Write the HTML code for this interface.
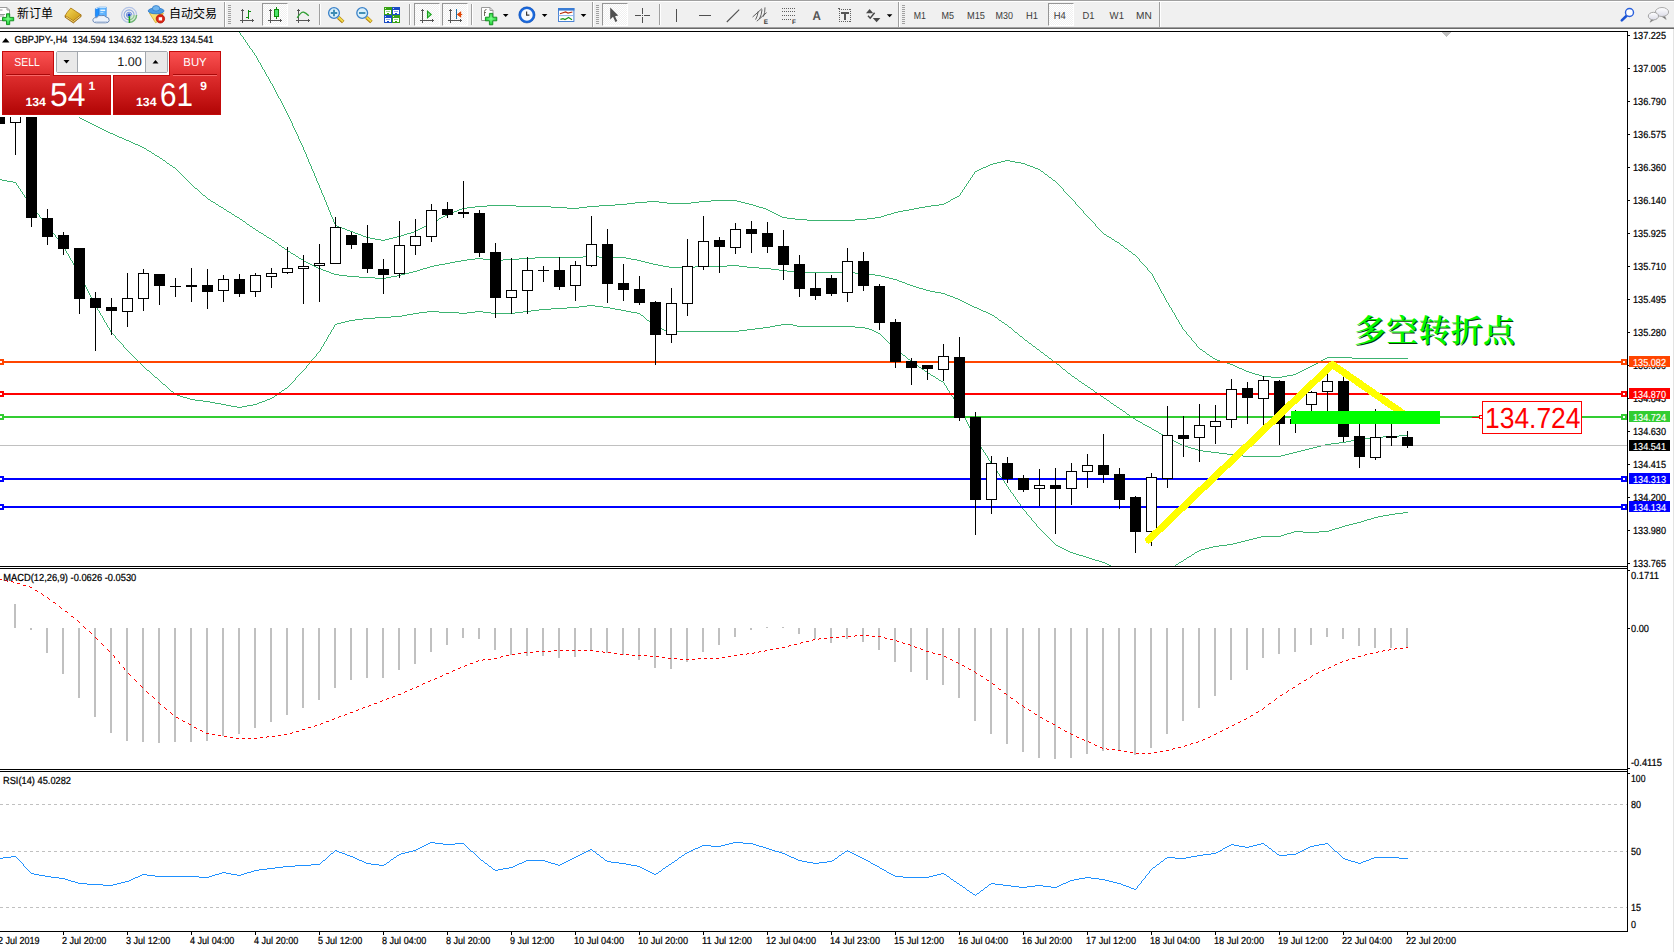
<!DOCTYPE html>
<html><head><meta charset="utf-8"><title>GBPJPY-,H4</title>
<style>
html,body{margin:0;padding:0;background:#fff;}
body{width:1674px;height:952px;position:relative;overflow:hidden;font-family:"Liberation Sans","Noto Sans CJK SC",sans-serif;}
#tb{position:absolute;left:0;top:0;width:1674px;height:29px;background:#f0f0f0;}
#tb .l0{position:absolute;left:0;top:0;width:100%;height:1px;background:#a0a0a0}
#tb .l1{position:absolute;left:0;top:1px;width:100%;height:1px;background:#fff}
#tb .l2{position:absolute;left:0;top:27px;width:100%;height:1px;background:#a0a0a0}
#tb .l3{position:absolute;left:0;top:28px;width:100%;height:1px;background:#696969}
.sep{position:absolute;top:4px;width:1px;height:21px;background:#a0a0a0;box-shadow:1px 0 0 #fff}
.sep.tall{top:2px;height:25px}
.grip{position:absolute;top:5px;width:3px;height:19px;background:repeating-linear-gradient(#a0a0a0 0 1px,transparent 1px 2px)}
.pressed{position:absolute;top:3px;width:26px;height:23px;box-sizing:border-box;border:1px solid;border-color:#969696 #fff #fff #969696;
 background:conic-gradient(#fff 25%,#f0f0f0 0 50%,#fff 0 75%,#f0f0f0 0) 0 0/2px 2px}
.cn{position:absolute;top:5px;font-size:12px;line-height:16px;color:#000;font-family:"Liberation Sans","Noto Sans CJK SC",sans-serif}
#redge{position:absolute;left:1673px;top:29px;width:1px;height:923px;background:#e3e3e3}
</style></head><body>
<svg width="1674" height="952" viewBox="0 0 1674 952" style="position:absolute;left:0;top:0" shape-rendering="crispEdges" text-rendering="geometricPrecision" font-family="'Liberation Sans',sans-serif"><rect x="0" y="31" width="1628" height="1" fill="#000"/>
<rect x="1627" y="31" width="1" height="901" fill="#000"/>
<rect x="0" y="566" width="1628" height="1" fill="#000"/>
<rect x="0" y="568" width="1628" height="1" fill="#000"/>
<rect x="0" y="769" width="1628" height="1" fill="#000"/>
<rect x="0" y="771" width="1628" height="1" fill="#000"/>
<rect x="0" y="931" width="1628" height="1" fill="#000"/>
<clipPath id="cm"><rect x="0" y="32" width="1627" height="534"/></clipPath>
<g clip-path="url(#cm)">
<rect x="1442" y="32" width="9" height="1" fill="#c0c0c0"/>
<rect x="1443" y="33" width="7" height="1" fill="#c0c0c0"/>
<rect x="1444" y="34" width="5" height="1" fill="#c0c0c0"/>
<rect x="1445" y="35" width="3" height="1" fill="#c0c0c0"/>
<rect x="1446" y="36" width="1" height="1" fill="#c0c0c0"/>
<path d="M239 32h1M240 33h1M240 34h1M241 35h1M242 36h1M243 37h1M243 38h1M244 39h1M245 40h1M245 41h1M246 42h1M247 43h1M247 44h1M248 45h1M249 46h1M249 47h1M250 48h1M251 49h1M252 50h1M252 51h1M253 52h1M254 53h1M254 54h1M255 55h1M256 56h1M256 57h1M257 58h1M257 59h1M258 60h1M258 61h1M259 62h1M260 63h1M260 64h1M261 65h1M261 66h1M262 67h1M262 68h1M263 69h1M264 70h1M264 71h1M265 72h1M265 73h1M266 74h1M266 75h1M267 76h1M268 77h1M268 78h1M269 79h1M269 80h1M270 81h1M270 82h1M271 83h1M272 84h1M272 85h1M273 86h1M273 87h1M274 88h1M274 89h1M275 90h1M275 91h1M276 92h1M276 93h1M277 94h1M277 95h1M278 96h1M278 97h1M279 98h1M280 99h1M280 100h1M281 101h1M281 102h1M282 103h1M282 104h1M283 105h1M283 106h1M284 107h1M284 108h1M285 109h1M285 110h1M286 111h1M286 112h1M287 113h1M287 114h1M288 115h1M288 116h1M289 117h1M289 118h1M290 119h1M290 120h1M291 121h1M291 122h1M292 123h1M292 124h1M292 125h1M293 126h1M293 127h1M294 128h1M294 129h1M295 130h1M295 131h1M296 132h1M296 133h1M297 134h1M297 135h1M298 136h1M298 137h1M298 138h1M299 139h1M299 140h1M300 141h1M300 142h1M301 143h1M301 144h1M302 145h1M302 146h1M303 147h1M303 148h1M303 149h1M304 150h1M304 151h1M305 152h1M305 153h1M306 154h1M306 155h1M306 156h1M307 157h1M307 158h1M308 159h1M308 160h1M1005 160h5M308 161h1M1001 161h4M1010 161h5M309 162h1M997 162h4M1015 162h6M309 163h1M993 163h4M1021 163h4M310 164h1M990 164h3M1025 164h2M310 165h1M988 165h2M1027 165h3M311 166h1M986 166h2M1030 166h3M311 167h1M983 167h3M1033 167h2M311 168h1M981 168h2M1035 168h3M312 169h1M979 169h2M1038 169h2M312 170h1M977 170h2M1040 170h1M313 171h1M975 171h2M1041 171h2M313 172h1M974 172h1M1043 172h1M314 173h1M974 173h1M1044 173h1M314 174h1M973 174h1M1045 174h2M314 175h1M972 175h1M1047 175h1M315 176h1M972 176h1M1048 176h1M315 177h1M971 177h1M1049 177h2M316 178h1M970 178h1M1051 178h1M316 179h1M970 179h1M1052 179h1M316 180h1M969 180h1M1053 180h2M317 181h1M968 181h1M1055 181h1M317 182h1M968 182h1M1056 182h1M318 183h1M967 183h1M1057 183h1M318 184h1M966 184h1M1058 184h1M319 185h1M966 185h1M1059 185h1M319 186h1M965 186h1M1060 186h1M319 187h1M964 187h1M1061 187h1M320 188h1M964 188h1M1062 188h1M320 189h1M963 189h1M1063 189h1M321 190h1M962 190h1M1063 190h1M321 191h1M962 191h1M1064 191h1M321 192h1M961 192h1M1065 192h1M322 193h1M960 193h1M1066 193h1M322 194h1M960 194h1M1067 194h1M323 195h1M959 195h1M1068 195h1M323 196h1M957 196h2M1069 196h1M324 197h1M955 197h2M1070 197h1M324 198h1M953 198h2M1071 198h1M324 199h1M951 199h2M1072 199h1M325 200h1M711 200h26M950 200h1M1073 200h1M325 201h1M647 201h12M699 201h12M737 201h4M948 201h2M1074 201h1M326 202h1M635 202h12M659 202h8M691 202h8M741 202h4M946 202h2M1075 202h1M326 203h1M627 203h8M667 203h24M745 203h4M944 203h2M1075 203h1M326 204h1M615 204h12M749 204h4M939 204h5M1076 204h1M327 205h1M487 205h29M599 205h16M753 205h3M931 205h8M1077 205h1M327 206h1M475 206h12M516 206h35M587 206h12M756 206h3M925 206h6M1078 206h1M328 207h1M467 207h8M551 207h16M579 207h8M759 207h4M919 207h6M1079 207h1M328 208h1M462 208h5M567 208h12M763 208h3M914 208h5M1080 208h1M328 209h1M459 209h3M766 209h2M909 209h5M1081 209h1M329 210h1M457 210h2M768 210h2M903 210h6M1082 210h1M329 211h1M454 211h3M770 211h2M898 211h5M1083 211h1M330 212h1M451 212h3M772 212h2M894 212h4M1083 212h1M330 213h1M449 213h2M774 213h2M891 213h3M1084 213h1M330 214h1M447 214h2M776 214h2M887 214h4M1085 214h1M331 215h1M445 215h2M778 215h2M884 215h3M1086 215h1M331 216h1M443 216h2M780 216h2M881 216h3M1087 216h1M332 217h1M441 217h2M782 217h5M875 217h6M1088 217h1M332 218h1M439 218h2M787 218h8M867 218h8M1089 218h1M333 219h1M438 219h1M795 219h12M855 219h12M1090 219h1M333 220h1M436 220h2M807 220h48M1091 220h1M333 221h1M434 221h2M1092 221h1M334 222h1M432 222h2M1093 222h1M334 223h1M430 223h2M1094 223h1M335 224h1M428 224h2M1095 224h1M335 225h2M426 225h2M1095 225h1M337 226h2M424 226h2M1096 226h1M339 227h3M422 227h2M1097 227h1M342 228h3M420 228h2M1098 228h1M345 229h2M418 229h2M1099 229h1M347 230h3M416 230h2M1100 230h1M350 231h3M414 231h2M1101 231h1M353 232h2M411 232h3M1102 232h1M355 233h3M407 233h4M1103 233h1M358 234h3M404 234h3M1104 234h2M361 235h2M401 235h3M1106 235h1M363 236h3M397 236h4M1107 236h2M366 237h4M393 237h4M1109 237h2M370 238h5M389 238h4M1111 238h1M375 239h6M385 239h4M1112 239h2M381 240h4M1114 240h1M1115 241h2M1117 242h2M1119 243h1M1120 244h1M1121 245h2M1123 246h1M1124 247h1M1125 248h2M1127 249h1M1128 250h1M1129 251h2M1131 252h1M1132 253h1M1133 254h2M1135 255h1M1136 256h1M1137 257h1M1138 258h1M1139 259h1M1139 260h1M1140 261h1M1141 262h1M1142 263h1M1143 264h1M1144 265h1M1145 266h1M1146 267h1M1147 268h1M1147 269h1M1148 270h1M1149 271h1M1150 272h1M1151 273h1M1152 274h1M1152 275h1M1153 276h1M1153 277h1M1154 278h1M1154 279h1M1155 280h1M1155 281h1M1156 282h1M1157 283h1M1157 284h1M1158 285h1M1158 286h1M1159 287h1M1159 288h1M1160 289h1M1160 290h1M1161 291h1M1161 292h1M1162 293h1M1163 294h1M1163 295h1M1164 296h1M1164 297h1M1165 298h1M1165 299h1M1166 300h1M1166 301h1M1167 302h1M1168 303h1M1168 304h1M1169 305h1M1169 306h1M1170 307h1M1171 308h1M1171 309h1M1172 310h1M1172 311h1M1173 312h1M1174 313h1M1174 314h1M1175 315h1M1175 316h1M1176 317h1M1176 318h1M1177 319h1M1178 320h1M1178 321h1M1179 322h1M1179 323h1M1180 324h1M1181 325h1M1181 326h1M1182 327h1M1182 328h1M1183 329h1M1184 330h1M1185 331h1M1186 332h1M1186 333h1M1187 334h1M1188 335h1M1189 336h1M1190 337h1M1191 338h1M1191 339h1M1192 340h1M1193 341h1M1194 342h1M1195 343h1M1196 344h1M1196 345h1M1197 346h1M1198 347h1M1199 348h1M1200 349h2M1202 350h1M1203 351h2M1205 352h1M1206 353h1M1207 354h2M1209 355h1M1210 356h2M1212 357h1M1327 357h25M1213 358h2M1325 358h2M1352 358h56M1215 359h2M1323 359h2M1217 360h3M1321 360h2M1220 361h3M1319 361h2M1223 362h4M1318 362h1M1227 363h3M1316 363h2M1230 364h3M1314 364h2M1233 365h2M1312 365h2M1235 366h2M1310 366h2M1237 367h2M1308 367h2M1239 368h3M1306 368h2M1242 369h2M1304 369h2M1244 370h2M1302 370h2M1246 371h3M1300 371h2M1249 372h3M1298 372h2M1252 373h3M1296 373h2M1255 374h4M1293 374h3M1259 375h3M1287 375h6M1262 376h9M1282 376h5M1271 377h11" stroke="#3cb371" stroke-width="1" fill="none" transform="translate(0,0.5)"/>
<path d="M60 107h1M61 108h2M63 109h2M65 110h2M67 111h2M69 112h2M71 113h2M73 114h2M75 115h2M77 116h2M79 117h1M80 118h2M82 119h2M84 120h2M86 121h2M88 122h2M90 123h2M92 124h2M94 125h2M96 126h2M98 127h2M100 128h2M102 129h2M104 130h2M106 131h2M108 132h2M110 133h3M113 134h2M115 135h2M117 136h2M119 137h3M122 138h2M124 139h2M126 140h3M129 141h2M131 142h2M133 143h2M135 144h3M138 145h2M140 146h2M142 147h2M144 148h2M146 149h1M147 150h2M149 151h2M151 152h1M152 153h2M154 154h1M155 155h2M157 156h2M159 157h1M160 158h2M162 159h1M163 160h2M165 161h1M166 162h1M167 163h2M169 164h1M170 165h2M172 166h1M173 167h2M175 168h1M176 169h1M177 170h1M178 171h1M179 172h1M180 173h1M181 174h1M182 175h1M183 176h1M184 177h1M185 178h1M186 179h1M187 180h1M188 181h1M189 182h1M190 183h1M191 184h1M192 185h1M193 186h1M194 187h1M195 188h2M197 189h1M198 190h1M199 191h1M200 192h1M201 193h1M202 194h1M203 195h2M205 196h1M206 197h1M207 198h1M208 199h2M210 200h1M211 201h2M213 202h2M215 203h1M216 204h2M218 205h1M219 206h2M221 207h2M223 208h1M224 209h2M226 210h1M227 211h2M229 212h2M231 213h1M232 214h2M234 215h1M235 216h2M237 217h2M239 218h1M240 219h2M242 220h1M243 221h2M245 222h1M246 223h1M247 224h2M249 225h1M250 226h2M252 227h1M253 228h2M255 229h1M256 230h2M258 231h1M259 232h2M261 233h2M263 234h1M264 235h2M266 236h1M267 237h2M269 238h2M271 239h1M272 240h2M274 241h1M275 242h2M277 243h1M278 244h1M279 245h2M281 246h1M282 247h2M284 248h1M285 249h2M287 250h1M288 251h2M290 252h1M291 253h2M293 254h2M295 255h1M296 256h2M583 256h16M298 257h1M535 257h48M599 257h27M299 258h2M475 258h8M519 258h16M626 258h5M301 259h2M467 259h8M483 259h8M503 259h16M631 259h6M303 260h1M461 260h6M491 260h12M637 260h4M304 261h2M455 261h6M641 261h4M306 262h2M450 262h5M645 262h4M308 263h2M445 263h5M649 263h4M310 264h2M439 264h6M653 264h5M312 265h2M434 265h5M658 265h5M727 265h12M314 266h2M430 266h4M663 266h6M695 266h32M739 266h8M316 267h2M427 267h3M669 267h26M747 267h12M318 268h3M423 268h4M759 268h12M321 269h2M420 269h3M771 269h8M323 270h3M417 270h3M779 270h8M326 271h3M413 271h4M787 271h8M329 272h2M409 272h4M795 272h60M331 273h3M405 273h4M855 273h12M334 274h5M401 274h4M867 274h8M339 275h8M397 275h4M875 275h6M347 276h12M391 276h6M881 276h4M359 277h16M386 277h5M885 277h4M375 278h11M889 278h4M893 279h4M897 280h2M899 281h3M902 282h3M905 283h2M907 284h3M910 285h3M913 286h3M916 287h3M919 288h4M923 289h3M926 290h4M930 291h5M935 292h6M941 293h4M945 294h2M947 295h3M950 296h3M953 297h2M955 298h3M958 299h2M960 300h2M962 301h2M964 302h2M966 303h2M968 304h2M970 305h2M972 306h2M974 307h3M977 308h2M979 309h2M981 310h2M983 311h3M986 312h2M988 313h2M990 314h2M992 315h2M994 316h1M995 317h2M997 318h1M998 319h1M999 320h2M1001 321h1M1002 322h2M1004 323h1M1005 324h2M1007 325h1M1008 326h1M1009 327h2M1011 328h1M1012 329h1M1013 330h1M1014 331h1M1015 332h2M1017 333h1M1018 334h1M1019 335h1M1020 336h2M1022 337h1M1023 338h1M1024 339h1M1025 340h2M1027 341h1M1028 342h1M1029 343h2M1031 344h1M1032 345h1M1033 346h2M1035 347h1M1036 348h1M1037 349h2M1039 350h1M1040 351h1M1041 352h2M1043 353h1M1044 354h1M1045 355h2M1047 356h1M1048 357h1M1049 358h2M1051 359h1M1052 360h1M1053 361h2M1055 362h1M1056 363h1M1057 364h2M1059 365h1M1060 366h1M1061 367h1M1062 368h1M1063 369h2M1065 370h1M1066 371h1M1067 372h1M1068 373h2M1070 374h1M1071 375h1M1072 376h2M1074 377h1M1075 378h2M1077 379h1M1078 380h1M1079 381h2M1081 382h1M1082 383h2M1084 384h1M1085 385h2M1087 386h1M1088 387h2M1090 388h1M1091 389h2M1093 390h1M1094 391h1M1095 392h2M1097 393h1M1098 394h2M1100 395h1M1101 396h2M1103 397h1M1104 398h2M1106 399h1M1107 400h2M1109 401h1M1110 402h1M1111 403h2M1113 404h1M1114 405h2M1116 406h1M1117 407h2M1119 408h1M1120 409h2M1122 410h1M1123 411h2M1125 412h1M1126 413h1M1127 414h2M1129 415h1M1130 416h2M1132 417h1M1133 418h2M1135 419h1M1136 420h2M1138 421h2M1140 422h2M1142 423h1M1143 424h2M1145 425h2M1147 426h2M1149 427h2M1151 428h1M1152 429h2M1154 430h2M1156 431h2M1158 432h1M1159 433h2M1161 434h2M1163 435h2M1399 435h9M1165 436h2M1383 436h16M1167 437h1M1371 437h12M1168 438h2M1363 438h8M1170 439h2M1357 439h6M1172 440h2M1351 440h6M1174 441h2M1346 441h5M1176 442h2M1339 442h7M1178 443h2M1331 443h8M1180 444h2M1325 444h6M1182 445h3M1321 445h4M1185 446h3M1317 446h4M1188 447h3M1313 447h4M1191 448h4M1309 448h4M1195 449h3M1305 449h4M1198 450h5M1301 450h4M1203 451h8M1297 451h4M1211 452h8M1293 452h4M1219 453h8M1289 453h4M1227 454h8M1285 454h4M1235 455h8M1281 455h4M1243 456h38" stroke="#3cb371" stroke-width="1" fill="none" transform="translate(0,0.5)"/>
<path d="M0 179h2M2 180h5M7 181h6M13 182h3M16 183h1M16 184h1M17 185h1M18 186h1M18 187h1M19 188h1M20 189h1M20 190h1M21 191h1M22 192h1M22 193h1M23 194h1M24 195h1M24 196h1M25 197h1M26 198h1M26 199h1M27 200h1M28 201h1M28 202h1M29 203h1M30 204h1M30 205h1M31 206h1M32 207h1M33 208h1M34 209h1M34 210h1M35 211h1M36 212h1M37 213h1M38 214h1M39 215h1M39 216h1M40 217h1M41 218h1M42 219h1M43 220h1M44 221h1M44 222h1M45 223h1M46 224h1M47 225h1M48 226h1M49 227h1M49 228h1M50 229h1M51 230h1M52 231h1M52 232h1M53 233h1M54 234h1M55 235h1M55 236h1M56 237h1M57 238h1M58 239h1M58 240h1M59 241h1M60 242h1M61 243h1M61 244h1M62 245h1M63 246h1M64 247h1M64 248h1M65 249h1M65 250h1M66 251h1M66 252h1M67 253h1M68 254h1M68 255h1M69 256h1M69 257h1M70 258h1M70 259h1M71 260h1M72 261h1M72 262h1M73 263h1M73 264h1M74 265h1M74 266h1M75 267h1M76 268h1M76 269h1M77 270h1M77 271h1M78 272h1M78 273h1M79 274h1M80 275h1M80 276h1M81 277h1M81 278h1M82 279h1M82 280h1M83 281h1M83 282h1M84 283h1M84 284h1M85 285h1M85 286h1M86 287h1M86 288h1M87 289h1M87 290h1M88 291h1M88 292h1M89 293h1M89 294h1M90 295h1M90 296h1M91 297h1M91 298h1M92 299h1M92 300h1M93 301h1M93 302h1M94 303h1M94 304h1M95 305h1M587 305h8M96 306h1M579 306h8M595 306h8M96 307h1M567 307h12M603 307h7M97 308h1M551 308h16M610 308h5M97 309h1M539 309h12M615 309h6M98 310h1M531 310h8M621 310h5M99 311h1M427 311h12M475 311h8M523 311h8M626 311h5M99 312h1M419 312h8M439 312h20M467 312h8M483 312h8M515 312h8M631 312h6M100 313h1M413 313h6M459 313h8M491 313h24M637 313h3M100 314h1M407 314h6M640 314h1M101 315h1M402 315h5M641 315h2M102 316h1M391 316h11M643 316h1M102 317h1M375 317h16M644 317h1M103 318h1M363 318h12M645 318h1M103 319h1M355 319h8M646 319h1M104 320h1M349 320h6M647 320h2M104 321h1M345 321h4M649 321h1M105 322h1M341 322h4M650 322h1M106 323h1M337 323h4M651 323h1M106 324h1M335 324h2M652 324h2M781 324h12M107 325h1M334 325h1M654 325h1M775 325h6M793 325h4M107 326h1M334 326h1M655 326h2M770 326h5M797 326h58M108 327h1M333 327h1M657 327h2M763 327h7M855 327h10M109 328h1M333 328h1M659 328h3M755 328h8M865 328h4M109 329h1M332 329h1M662 329h2M747 329h8M869 329h3M110 330h1M331 330h1M664 330h4M739 330h8M872 330h2M110 331h1M331 331h1M668 331h71M874 331h2M111 332h1M330 332h1M876 332h2M112 333h1M330 333h1M878 333h2M113 334h1M329 334h1M880 334h1M114 335h1M328 335h1M881 335h1M115 336h1M328 336h1M882 336h1M115 337h1M327 337h1M883 337h1M116 338h1M327 338h1M884 338h1M117 339h1M326 339h1M885 339h1M118 340h1M326 340h1M886 340h1M119 341h1M325 341h1M887 341h1M120 342h1M324 342h1M888 342h1M121 343h1M324 343h1M889 343h1M122 344h1M323 344h1M890 344h1M123 345h1M323 345h1M891 345h2M123 346h1M322 346h1M893 346h1M124 347h1M321 347h1M894 347h1M125 348h1M321 348h1M895 348h1M126 349h1M320 349h1M896 349h1M127 350h1M320 350h1M897 350h2M128 351h1M319 351h1M899 351h1M129 352h1M318 352h1M900 352h1M130 353h1M317 353h1M901 353h1M131 354h1M316 354h1M902 354h1M132 355h1M316 355h1M903 355h2M133 356h1M315 356h1M905 356h1M134 357h1M314 357h1M906 357h1M135 358h1M313 358h1M907 358h1M136 359h1M312 359h1M908 359h2M137 360h1M311 360h1M910 360h1M138 361h1M311 361h1M911 361h1M139 362h1M310 362h1M912 362h2M140 363h1M309 363h1M914 363h1M141 364h1M308 364h1M915 364h2M142 365h1M307 365h1M917 365h1M143 366h1M306 366h1M918 366h1M144 367h1M306 367h1M919 367h2M145 368h1M305 368h1M921 368h1M146 369h1M304 369h1M922 369h2M147 370h2M303 370h1M924 370h1M149 371h1M302 371h1M925 371h2M150 372h1M301 372h1M927 372h1M151 373h1M300 373h1M928 373h2M152 374h1M299 374h1M930 374h1M153 375h1M298 375h1M931 375h2M154 376h1M297 376h1M933 376h2M155 377h2M296 377h1M935 377h1M157 378h1M295 378h1M936 378h2M158 379h1M295 379h1M938 379h1M159 380h1M294 380h1M939 380h2M160 381h1M293 381h1M941 381h2M161 382h1M292 382h1M943 382h1M162 383h1M291 383h1M944 383h1M163 384h2M290 384h1M944 384h1M165 385h1M289 385h1M945 385h1M166 386h1M288 386h1M946 386h1M167 387h1M287 387h1M946 387h1M168 388h1M285 388h2M947 388h1M169 389h1M284 389h1M947 389h1M170 390h1M282 390h2M948 390h1M171 391h2M281 391h1M949 391h1M173 392h1M279 392h2M949 392h1M174 393h1M278 393h1M950 393h1M175 394h2M277 394h1M951 394h1M177 395h3M275 395h2M951 395h1M180 396h3M274 396h1M952 396h1M183 397h4M272 397h2M953 397h1M187 398h3M270 398h2M953 398h1M190 399h5M267 399h3M954 399h1M195 400h8M265 400h2M955 400h1M203 401h7M262 401h3M955 401h1M210 402h5M259 402h3M956 402h1M215 403h6M257 403h2M956 403h1M221 404h5M253 404h4M957 404h1M226 405h5M247 405h6M958 405h1M231 406h6M242 406h5M958 406h1M237 407h5M959 407h1M960 408h1M960 409h1M961 410h1M961 411h1M962 412h1M962 413h1M963 414h1M963 415h1M964 416h1M964 417h1M965 418h1M965 419h1M966 420h1M966 421h1M967 422h1M967 423h1M968 424h1M968 425h1M969 426h1M969 427h1M970 428h1M970 429h1M971 430h1M971 431h1M972 432h1M972 433h1M973 434h1M973 435h1M974 436h1M974 437h1M975 438h1M976 439h1M976 440h1M977 441h1M978 442h1M978 443h1M979 444h1M979 445h1M980 446h1M981 447h1M981 448h1M982 449h1M983 450h1M983 451h1M984 452h1M985 453h1M985 454h1M986 455h1M987 456h1M987 457h1M988 458h1M988 459h1M989 460h1M990 461h1M990 462h1M991 463h1M992 464h1M992 465h1M993 466h1M994 467h1M994 468h1M995 469h1M996 470h1M997 471h1M997 472h1M998 473h1M999 474h1M999 475h1M1000 476h1M1001 477h1M1001 478h1M1002 479h1M1003 480h1M1004 481h1M1004 482h1M1005 483h1M1006 484h1M1006 485h1M1007 486h1M1008 487h1M1008 488h1M1009 489h1M1010 490h1M1010 491h1M1011 492h1M1012 493h1M1013 494h1M1013 495h1M1014 496h1M1015 497h1M1015 498h1M1016 499h1M1017 500h1M1017 501h1M1018 502h1M1019 503h1M1020 504h1M1020 505h1M1021 506h1M1022 507h1M1022 508h1M1023 509h1M1024 510h1M1025 511h1M1026 512h1M1403 512h5M1026 513h1M1395 513h8M1027 514h1M1389 514h6M1028 515h1M1383 515h6M1029 516h1M1378 516h5M1030 517h1M1374 517h4M1031 518h1M1371 518h3M1031 519h1M1367 519h4M1032 520h1M1364 520h3M1033 521h1M1361 521h3M1034 522h1M1357 522h4M1035 523h1M1353 523h4M1036 524h1M1349 524h4M1036 525h1M1345 525h4M1037 526h1M1342 526h3M1038 527h1M1339 527h3M1039 528h1M1335 528h4M1040 529h1M1332 529h3M1041 530h1M1329 530h3M1042 531h1M1294 531h9M1319 531h10M1043 532h1M1291 532h3M1303 532h16M1044 533h1M1287 533h4M1045 534h1M1284 534h3M1046 535h1M1281 535h3M1047 536h1M1261 536h20M1048 537h1M1257 537h4M1049 538h1M1253 538h4M1050 539h1M1249 539h4M1051 540h1M1245 540h4M1052 541h1M1241 541h4M1053 542h1M1237 542h4M1054 543h1M1233 543h4M1055 544h1M1227 544h6M1056 545h2M1219 545h8M1058 546h2M1213 546h6M1060 547h2M1209 547h4M1062 548h2M1205 548h4M1064 549h2M1201 549h4M1066 550h2M1199 550h2M1068 551h2M1197 551h2M1070 552h3M1195 552h2M1073 553h3M1194 553h1M1076 554h3M1192 554h2M1079 555h4M1191 555h1M1083 556h3M1189 556h2M1086 557h3M1187 557h2M1089 558h3M1186 558h1M1092 559h3M1184 559h2M1095 560h4M1183 560h1M1099 561h3M1181 561h2M1102 562h3M1179 562h2M1105 563h2M1178 563h1M1107 564h2M1176 564h2M1109 565h2M1175 565h1" stroke="#3cb371" stroke-width="1" fill="none" transform="translate(0,0.5)"/>
<rect x="0" y="445" width="1627" height="1" fill="#c0c0c0"/>
<rect x="0" y="361" width="1627" height="2" fill="#ff4500"/>
<rect x="-2" y="359" width="6" height="6" fill="#ff4500"/>
<rect x="0" y="361" width="2" height="2" fill="#fff"/>
<rect x="1621" y="359" width="6" height="6" fill="#ff4500"/>
<rect x="1623" y="361" width="2" height="2" fill="#fff"/>
<rect x="0" y="393" width="1627" height="2" fill="#ff0000"/>
<rect x="-2" y="391" width="6" height="6" fill="#ff0000"/>
<rect x="0" y="393" width="2" height="2" fill="#fff"/>
<rect x="1621" y="391" width="6" height="6" fill="#ff0000"/>
<rect x="1623" y="393" width="2" height="2" fill="#fff"/>
<rect x="0" y="416" width="1627" height="2" fill="#32cd32"/>
<rect x="-2" y="414" width="6" height="6" fill="#32cd32"/>
<rect x="0" y="416" width="2" height="2" fill="#fff"/>
<rect x="1621" y="414" width="6" height="6" fill="#32cd32"/>
<rect x="1623" y="416" width="2" height="2" fill="#fff"/>
<rect x="0" y="478" width="1627" height="2" fill="#0000ff"/>
<rect x="-2" y="476" width="6" height="6" fill="#0000ff"/>
<rect x="0" y="478" width="2" height="2" fill="#fff"/>
<rect x="1621" y="476" width="6" height="6" fill="#0000ff"/>
<rect x="1623" y="478" width="2" height="2" fill="#fff"/>
<rect x="0" y="506" width="1627" height="2" fill="#0000ff"/>
<rect x="-2" y="504" width="6" height="6" fill="#0000ff"/>
<rect x="0" y="506" width="2" height="2" fill="#fff"/>
<rect x="1621" y="504" width="6" height="6" fill="#0000ff"/>
<rect x="1623" y="506" width="2" height="2" fill="#fff"/>
<rect x="-1" y="100" width="1" height="24" fill="#000"/>
<rect x="-6" y="100" width="11" height="24" fill="#000"/>
<rect x="15" y="100" width="1" height="55" fill="#000"/>
<rect x="10" y="100" width="11" height="23" fill="#000"/>
<rect x="11" y="101" width="9" height="21" fill="#fff"/>
<rect x="31" y="100" width="1" height="127" fill="#000"/>
<rect x="26" y="100" width="11" height="118" fill="#000"/>
<rect x="47" y="209" width="1" height="36" fill="#000"/>
<rect x="42" y="218" width="11" height="19" fill="#000"/>
<rect x="63" y="232" width="1" height="23" fill="#000"/>
<rect x="58" y="235" width="11" height="14" fill="#000"/>
<rect x="79" y="248" width="1" height="66" fill="#000"/>
<rect x="74" y="248" width="11" height="51" fill="#000"/>
<rect x="95" y="292" width="1" height="59" fill="#000"/>
<rect x="90" y="298" width="11" height="10" fill="#000"/>
<rect x="111" y="298" width="1" height="37" fill="#000"/>
<rect x="106" y="307" width="11" height="4" fill="#000"/>
<rect x="127" y="273" width="1" height="54" fill="#000"/>
<rect x="122" y="298" width="11" height="14" fill="#000"/>
<rect x="123" y="299" width="9" height="12" fill="#fff"/>
<rect x="143" y="269" width="1" height="42" fill="#000"/>
<rect x="138" y="273" width="11" height="26" fill="#000"/>
<rect x="139" y="274" width="9" height="24" fill="#fff"/>
<rect x="159" y="274" width="1" height="31" fill="#000"/>
<rect x="154" y="274" width="11" height="12" fill="#000"/>
<rect x="175" y="278" width="1" height="19" fill="#000"/>
<rect x="170" y="286" width="11" height="1" fill="#000"/>
<rect x="191" y="268" width="1" height="34" fill="#000"/>
<rect x="186" y="285" width="11" height="2" fill="#000"/>
<rect x="207" y="269" width="1" height="40" fill="#000"/>
<rect x="202" y="285" width="11" height="7" fill="#000"/>
<rect x="223" y="275" width="1" height="27" fill="#000"/>
<rect x="218" y="279" width="11" height="12" fill="#000"/>
<rect x="219" y="280" width="9" height="10" fill="#fff"/>
<rect x="239" y="274" width="1" height="23" fill="#000"/>
<rect x="234" y="279" width="11" height="15" fill="#000"/>
<rect x="255" y="273" width="1" height="24" fill="#000"/>
<rect x="250" y="275" width="11" height="17" fill="#000"/>
<rect x="251" y="276" width="9" height="15" fill="#fff"/>
<rect x="271" y="268" width="1" height="20" fill="#000"/>
<rect x="266" y="273" width="11" height="4" fill="#000"/>
<rect x="267" y="274" width="9" height="2" fill="#fff"/>
<rect x="287" y="247" width="1" height="27" fill="#000"/>
<rect x="282" y="268" width="11" height="5" fill="#000"/>
<rect x="283" y="269" width="9" height="3" fill="#fff"/>
<rect x="303" y="255" width="1" height="49" fill="#000"/>
<rect x="298" y="266" width="11" height="3" fill="#000"/>
<rect x="299" y="267" width="9" height="1" fill="#fff"/>
<rect x="319" y="244" width="1" height="58" fill="#000"/>
<rect x="314" y="263" width="11" height="3" fill="#000"/>
<rect x="315" y="264" width="9" height="1" fill="#fff"/>
<rect x="335" y="217" width="1" height="47" fill="#000"/>
<rect x="330" y="227" width="11" height="37" fill="#000"/>
<rect x="331" y="228" width="9" height="35" fill="#fff"/>
<rect x="351" y="232" width="1" height="17" fill="#000"/>
<rect x="346" y="235" width="11" height="10" fill="#000"/>
<rect x="367" y="225" width="1" height="48" fill="#000"/>
<rect x="362" y="243" width="11" height="26" fill="#000"/>
<rect x="383" y="259" width="1" height="35" fill="#000"/>
<rect x="378" y="269" width="11" height="6" fill="#000"/>
<rect x="399" y="221" width="1" height="57" fill="#000"/>
<rect x="394" y="245" width="11" height="29" fill="#000"/>
<rect x="395" y="246" width="9" height="27" fill="#fff"/>
<rect x="415" y="219" width="1" height="36" fill="#000"/>
<rect x="410" y="236" width="11" height="10" fill="#000"/>
<rect x="411" y="237" width="9" height="8" fill="#fff"/>
<rect x="431" y="204" width="1" height="38" fill="#000"/>
<rect x="426" y="210" width="11" height="27" fill="#000"/>
<rect x="427" y="211" width="9" height="25" fill="#fff"/>
<rect x="447" y="202" width="1" height="16" fill="#000"/>
<rect x="442" y="209" width="11" height="6" fill="#000"/>
<rect x="463" y="181" width="1" height="37" fill="#000"/>
<rect x="458" y="212" width="11" height="2" fill="#000"/>
<rect x="479" y="210" width="1" height="47" fill="#000"/>
<rect x="474" y="213" width="11" height="40" fill="#000"/>
<rect x="495" y="243" width="1" height="75" fill="#000"/>
<rect x="490" y="252" width="11" height="46" fill="#000"/>
<rect x="511" y="258" width="1" height="56" fill="#000"/>
<rect x="506" y="290" width="11" height="8" fill="#000"/>
<rect x="507" y="291" width="9" height="6" fill="#fff"/>
<rect x="527" y="257" width="1" height="57" fill="#000"/>
<rect x="522" y="270" width="11" height="21" fill="#000"/>
<rect x="523" y="271" width="9" height="19" fill="#fff"/>
<rect x="543" y="266" width="1" height="16" fill="#000"/>
<rect x="538" y="270" width="11" height="1" fill="#000"/>
<rect x="559" y="257" width="1" height="33" fill="#000"/>
<rect x="554" y="270" width="11" height="17" fill="#000"/>
<rect x="575" y="261" width="1" height="40" fill="#000"/>
<rect x="570" y="265" width="11" height="21" fill="#000"/>
<rect x="571" y="266" width="9" height="19" fill="#fff"/>
<rect x="591" y="216" width="1" height="51" fill="#000"/>
<rect x="586" y="244" width="11" height="22" fill="#000"/>
<rect x="587" y="245" width="9" height="20" fill="#fff"/>
<rect x="607" y="229" width="1" height="74" fill="#000"/>
<rect x="602" y="244" width="11" height="40" fill="#000"/>
<rect x="623" y="264" width="1" height="37" fill="#000"/>
<rect x="618" y="283" width="11" height="7" fill="#000"/>
<rect x="639" y="276" width="1" height="29" fill="#000"/>
<rect x="634" y="289" width="11" height="14" fill="#000"/>
<rect x="655" y="301" width="1" height="64" fill="#000"/>
<rect x="650" y="302" width="11" height="33" fill="#000"/>
<rect x="671" y="288" width="1" height="55" fill="#000"/>
<rect x="666" y="303" width="11" height="32" fill="#000"/>
<rect x="667" y="304" width="9" height="30" fill="#fff"/>
<rect x="687" y="239" width="1" height="77" fill="#000"/>
<rect x="682" y="266" width="11" height="38" fill="#000"/>
<rect x="683" y="267" width="9" height="36" fill="#fff"/>
<rect x="703" y="216" width="1" height="54" fill="#000"/>
<rect x="698" y="241" width="11" height="26" fill="#000"/>
<rect x="699" y="242" width="9" height="24" fill="#fff"/>
<rect x="719" y="237" width="1" height="36" fill="#000"/>
<rect x="714" y="240" width="11" height="7" fill="#000"/>
<rect x="735" y="223" width="1" height="31" fill="#000"/>
<rect x="730" y="229" width="11" height="19" fill="#000"/>
<rect x="731" y="230" width="9" height="17" fill="#fff"/>
<rect x="751" y="221" width="1" height="32" fill="#000"/>
<rect x="746" y="229" width="11" height="5" fill="#000"/>
<rect x="767" y="222" width="1" height="31" fill="#000"/>
<rect x="762" y="233" width="11" height="14" fill="#000"/>
<rect x="783" y="230" width="1" height="50" fill="#000"/>
<rect x="778" y="246" width="11" height="19" fill="#000"/>
<rect x="799" y="255" width="1" height="42" fill="#000"/>
<rect x="794" y="264" width="11" height="25" fill="#000"/>
<rect x="815" y="273" width="1" height="27" fill="#000"/>
<rect x="810" y="288" width="11" height="8" fill="#000"/>
<rect x="831" y="275" width="1" height="21" fill="#000"/>
<rect x="826" y="278" width="11" height="16" fill="#000"/>
<rect x="847" y="248" width="1" height="54" fill="#000"/>
<rect x="842" y="261" width="11" height="32" fill="#000"/>
<rect x="843" y="262" width="9" height="30" fill="#fff"/>
<rect x="863" y="252" width="1" height="39" fill="#000"/>
<rect x="858" y="261" width="11" height="25" fill="#000"/>
<rect x="879" y="284" width="1" height="46" fill="#000"/>
<rect x="874" y="286" width="11" height="37" fill="#000"/>
<rect x="895" y="319" width="1" height="49" fill="#000"/>
<rect x="890" y="322" width="11" height="40" fill="#000"/>
<rect x="911" y="358" width="1" height="27" fill="#000"/>
<rect x="906" y="361" width="11" height="7" fill="#000"/>
<rect x="927" y="365" width="1" height="15" fill="#000"/>
<rect x="922" y="365" width="11" height="4" fill="#000"/>
<rect x="943" y="344" width="1" height="37" fill="#000"/>
<rect x="938" y="356" width="11" height="14" fill="#000"/>
<rect x="939" y="357" width="9" height="12" fill="#fff"/>
<rect x="959" y="337" width="1" height="84" fill="#000"/>
<rect x="954" y="357" width="11" height="61" fill="#000"/>
<rect x="975" y="412" width="1" height="123" fill="#000"/>
<rect x="970" y="417" width="11" height="83" fill="#000"/>
<rect x="991" y="456" width="1" height="58" fill="#000"/>
<rect x="986" y="463" width="11" height="37" fill="#000"/>
<rect x="987" y="464" width="9" height="35" fill="#fff"/>
<rect x="1007" y="457" width="1" height="26" fill="#000"/>
<rect x="1002" y="463" width="11" height="16" fill="#000"/>
<rect x="1023" y="475" width="1" height="17" fill="#000"/>
<rect x="1018" y="478" width="11" height="12" fill="#000"/>
<rect x="1039" y="469" width="1" height="37" fill="#000"/>
<rect x="1034" y="485" width="11" height="4" fill="#000"/>
<rect x="1035" y="486" width="9" height="2" fill="#fff"/>
<rect x="1055" y="468" width="1" height="66" fill="#000"/>
<rect x="1050" y="485" width="11" height="4" fill="#000"/>
<rect x="1071" y="463" width="1" height="42" fill="#000"/>
<rect x="1066" y="471" width="11" height="18" fill="#000"/>
<rect x="1067" y="472" width="9" height="16" fill="#fff"/>
<rect x="1087" y="454" width="1" height="34" fill="#000"/>
<rect x="1082" y="465" width="11" height="7" fill="#000"/>
<rect x="1083" y="466" width="9" height="5" fill="#fff"/>
<rect x="1103" y="434" width="1" height="49" fill="#000"/>
<rect x="1098" y="465" width="11" height="10" fill="#000"/>
<rect x="1119" y="468" width="1" height="41" fill="#000"/>
<rect x="1114" y="474" width="11" height="26" fill="#000"/>
<rect x="1135" y="496" width="1" height="57" fill="#000"/>
<rect x="1130" y="497" width="11" height="35" fill="#000"/>
<rect x="1151" y="473" width="1" height="73" fill="#000"/>
<rect x="1146" y="477" width="11" height="55" fill="#000"/>
<rect x="1147" y="478" width="9" height="53" fill="#fff"/>
<rect x="1167" y="406" width="1" height="82" fill="#000"/>
<rect x="1162" y="435" width="11" height="44" fill="#000"/>
<rect x="1163" y="436" width="9" height="42" fill="#fff"/>
<rect x="1183" y="416" width="1" height="41" fill="#000"/>
<rect x="1178" y="435" width="11" height="4" fill="#000"/>
<rect x="1199" y="404" width="1" height="58" fill="#000"/>
<rect x="1194" y="425" width="11" height="13" fill="#000"/>
<rect x="1195" y="426" width="9" height="11" fill="#fff"/>
<rect x="1215" y="405" width="1" height="39" fill="#000"/>
<rect x="1210" y="421" width="11" height="6" fill="#000"/>
<rect x="1211" y="422" width="9" height="4" fill="#fff"/>
<rect x="1231" y="379" width="1" height="49" fill="#000"/>
<rect x="1226" y="389" width="11" height="31" fill="#000"/>
<rect x="1227" y="390" width="9" height="29" fill="#fff"/>
<rect x="1247" y="382" width="1" height="42" fill="#000"/>
<rect x="1242" y="388" width="11" height="10" fill="#000"/>
<rect x="1263" y="376" width="1" height="50" fill="#000"/>
<rect x="1258" y="380" width="11" height="19" fill="#000"/>
<rect x="1259" y="381" width="9" height="17" fill="#fff"/>
<rect x="1279" y="380" width="1" height="65" fill="#000"/>
<rect x="1274" y="381" width="11" height="43" fill="#000"/>
<rect x="1295" y="410" width="1" height="23" fill="#000"/>
<rect x="1290" y="419" width="11" height="5" fill="#000"/>
<rect x="1311" y="391" width="1" height="21" fill="#000"/>
<rect x="1306" y="392" width="11" height="13" fill="#000"/>
<rect x="1307" y="393" width="9" height="11" fill="#fff"/>
<rect x="1327" y="374" width="1" height="38" fill="#000"/>
<rect x="1322" y="381" width="11" height="11" fill="#000"/>
<rect x="1323" y="382" width="9" height="9" fill="#fff"/>
<rect x="1343" y="377" width="1" height="65" fill="#000"/>
<rect x="1338" y="381" width="11" height="56" fill="#000"/>
<rect x="1359" y="424" width="1" height="44" fill="#000"/>
<rect x="1354" y="436" width="11" height="21" fill="#000"/>
<rect x="1375" y="409" width="1" height="51" fill="#000"/>
<rect x="1370" y="437" width="11" height="21" fill="#000"/>
<rect x="1371" y="438" width="9" height="19" fill="#fff"/>
<rect x="1391" y="424" width="1" height="22" fill="#000"/>
<rect x="1386" y="436" width="11" height="2" fill="#000"/>
<rect x="1407" y="431" width="1" height="17" fill="#000"/>
<rect x="1402" y="437" width="11" height="9" fill="#000"/>
<polyline points="1148.7,539.9 1332.3,364.5 1408,416.9" fill="none" stroke="#ffff00" stroke-width="7" stroke-linejoin="round" stroke-linecap="round"/>
<rect x="1291" y="411" width="149" height="13" fill="#00ff00"/>
<rect x="1472" y="417" width="8" height="1" fill="#ff0000"/>
<rect x="1479" y="415" width="4" height="4" fill="#ff0000"/>
<rect x="1480" y="416" width="2" height="2" fill="#fff"/>
<rect x="1482" y="401" width="100" height="33" fill="#ff0000"/>
<rect x="1483" y="402" width="98" height="31" fill="#fff"/>
<text x="1485" y="427.5" font-size="29" fill="#ff0000" textLength="95.5" lengthAdjust="spacingAndGlyphs">134.724</text>
<text x="1354" y="341.5" font-family="'Liberation Serif','Noto Serif CJK SC',serif" font-weight="600" font-size="32" fill="#00fa00" textLength="161" style="text-shadow:1px 1px 0 #083808">多空转折点</text>
</g>
<rect x="1628" y="35" width="2" height="1" fill="#000"/>
<text x="1633" y="38.5" font-size="10.2" fill="#000" stroke="#000" stroke-width="0.22" text-anchor="start" lengthAdjust="spacingAndGlyphs" textLength="33">137.225</text>
<rect x="1628" y="68" width="2" height="1" fill="#000"/>
<text x="1633" y="71.5" font-size="10.2" fill="#000" stroke="#000" stroke-width="0.22" text-anchor="start" lengthAdjust="spacingAndGlyphs" textLength="33">137.005</text>
<rect x="1628" y="101" width="2" height="1" fill="#000"/>
<text x="1633" y="104.5" font-size="10.2" fill="#000" stroke="#000" stroke-width="0.22" text-anchor="start" lengthAdjust="spacingAndGlyphs" textLength="33">136.790</text>
<rect x="1628" y="134" width="2" height="1" fill="#000"/>
<text x="1633" y="137.5" font-size="10.2" fill="#000" stroke="#000" stroke-width="0.22" text-anchor="start" lengthAdjust="spacingAndGlyphs" textLength="33">136.575</text>
<rect x="1628" y="167" width="2" height="1" fill="#000"/>
<text x="1633" y="170.5" font-size="10.2" fill="#000" stroke="#000" stroke-width="0.22" text-anchor="start" lengthAdjust="spacingAndGlyphs" textLength="33">136.360</text>
<rect x="1628" y="200" width="2" height="1" fill="#000"/>
<text x="1633" y="203.5" font-size="10.2" fill="#000" stroke="#000" stroke-width="0.22" text-anchor="start" lengthAdjust="spacingAndGlyphs" textLength="33">136.140</text>
<rect x="1628" y="233" width="2" height="1" fill="#000"/>
<text x="1633" y="236.5" font-size="10.2" fill="#000" stroke="#000" stroke-width="0.22" text-anchor="start" lengthAdjust="spacingAndGlyphs" textLength="33">135.925</text>
<rect x="1628" y="266" width="2" height="1" fill="#000"/>
<text x="1633" y="269.5" font-size="10.2" fill="#000" stroke="#000" stroke-width="0.22" text-anchor="start" lengthAdjust="spacingAndGlyphs" textLength="33">135.710</text>
<rect x="1628" y="299" width="2" height="1" fill="#000"/>
<text x="1633" y="302.5" font-size="10.2" fill="#000" stroke="#000" stroke-width="0.22" text-anchor="start" lengthAdjust="spacingAndGlyphs" textLength="33">135.495</text>
<rect x="1628" y="332" width="2" height="1" fill="#000"/>
<text x="1633" y="335.5" font-size="10.2" fill="#000" stroke="#000" stroke-width="0.22" text-anchor="start" lengthAdjust="spacingAndGlyphs" textLength="33">135.280</text>
<rect x="1628" y="365" width="2" height="1" fill="#000"/>
<text x="1633" y="368.5" font-size="10.2" fill="#000" stroke="#000" stroke-width="0.22" text-anchor="start" lengthAdjust="spacingAndGlyphs" textLength="33">135.060</text>
<rect x="1628" y="398" width="2" height="1" fill="#000"/>
<text x="1633" y="401.5" font-size="10.2" fill="#000" stroke="#000" stroke-width="0.22" text-anchor="start" lengthAdjust="spacingAndGlyphs" textLength="33">134.845</text>
<rect x="1628" y="431" width="2" height="1" fill="#000"/>
<text x="1633" y="434.5" font-size="10.2" fill="#000" stroke="#000" stroke-width="0.22" text-anchor="start" lengthAdjust="spacingAndGlyphs" textLength="33">134.630</text>
<rect x="1628" y="464" width="2" height="1" fill="#000"/>
<text x="1633" y="467.5" font-size="10.2" fill="#000" stroke="#000" stroke-width="0.22" text-anchor="start" lengthAdjust="spacingAndGlyphs" textLength="33">134.415</text>
<rect x="1628" y="497" width="2" height="1" fill="#000"/>
<text x="1633" y="500.5" font-size="10.2" fill="#000" stroke="#000" stroke-width="0.22" text-anchor="start" lengthAdjust="spacingAndGlyphs" textLength="33">134.200</text>
<rect x="1628" y="530" width="2" height="1" fill="#000"/>
<text x="1633" y="533.5" font-size="10.2" fill="#000" stroke="#000" stroke-width="0.22" text-anchor="start" lengthAdjust="spacingAndGlyphs" textLength="33">133.980</text>
<rect x="1628" y="563" width="2" height="1" fill="#000"/>
<text x="1633" y="566.5" font-size="10.2" fill="#000" stroke="#000" stroke-width="0.22" text-anchor="start" lengthAdjust="spacingAndGlyphs" textLength="33">133.765</text>
<rect x="1629" y="356" width="41" height="11" fill="#ff4500"/>
<text x="1633" y="365.5" font-size="10.2" fill="#fff" stroke="#fff" stroke-width="0.15" text-anchor="start" lengthAdjust="spacingAndGlyphs" textLength="33">135.082</text>
<rect x="1629" y="388" width="41" height="11" fill="#ff0000"/>
<text x="1633" y="397.5" font-size="10.2" fill="#fff" stroke="#fff" stroke-width="0.15" text-anchor="start" lengthAdjust="spacingAndGlyphs" textLength="33">134.870</text>
<rect x="1629" y="411" width="41" height="11" fill="#32cd32"/>
<text x="1633" y="420.5" font-size="10.2" fill="#fff" stroke="#fff" stroke-width="0.15" text-anchor="start" lengthAdjust="spacingAndGlyphs" textLength="33">134.724</text>
<rect x="1629" y="473" width="41" height="11" fill="#0000ff"/>
<text x="1633" y="482.5" font-size="10.2" fill="#fff" stroke="#fff" stroke-width="0.15" text-anchor="start" lengthAdjust="spacingAndGlyphs" textLength="33">134.313</text>
<rect x="1629" y="501" width="41" height="11" fill="#0000ff"/>
<text x="1633" y="510.5" font-size="10.2" fill="#fff" stroke="#fff" stroke-width="0.15" text-anchor="start" lengthAdjust="spacingAndGlyphs" textLength="33">134.134</text>
<rect x="1629" y="440" width="41" height="11" fill="#000"/>
<text x="1633" y="449.5" font-size="10.2" fill="#fff" stroke="#fff" stroke-width="0.15" text-anchor="start" lengthAdjust="spacingAndGlyphs" textLength="33">134.541</text>
<clipPath id="c2"><rect x="0" y="569" width="1627" height="200"/></clipPath>
<g clip-path="url(#c2)">
<rect x="14" y="604" width="2" height="24" fill="#c0c0c0"/>
<rect x="30" y="628" width="2" height="2" fill="#c0c0c0"/>
<rect x="46" y="628" width="2" height="25" fill="#c0c0c0"/>
<rect x="62" y="628" width="2" height="46" fill="#c0c0c0"/>
<rect x="78" y="628" width="2" height="70" fill="#c0c0c0"/>
<rect x="94" y="628" width="2" height="89" fill="#c0c0c0"/>
<rect x="110" y="628" width="2" height="105" fill="#c0c0c0"/>
<rect x="126" y="628" width="2" height="113" fill="#c0c0c0"/>
<rect x="142" y="628" width="2" height="114" fill="#c0c0c0"/>
<rect x="158" y="628" width="2" height="115" fill="#c0c0c0"/>
<rect x="174" y="628" width="2" height="114" fill="#c0c0c0"/>
<rect x="190" y="628" width="2" height="114" fill="#c0c0c0"/>
<rect x="206" y="628" width="2" height="113" fill="#c0c0c0"/>
<rect x="222" y="628" width="2" height="108" fill="#c0c0c0"/>
<rect x="238" y="628" width="2" height="106" fill="#c0c0c0"/>
<rect x="254" y="628" width="2" height="100" fill="#c0c0c0"/>
<rect x="270" y="628" width="2" height="94" fill="#c0c0c0"/>
<rect x="286" y="628" width="2" height="87" fill="#c0c0c0"/>
<rect x="302" y="628" width="2" height="80" fill="#c0c0c0"/>
<rect x="318" y="628" width="2" height="72" fill="#c0c0c0"/>
<rect x="334" y="628" width="2" height="60" fill="#c0c0c0"/>
<rect x="350" y="628" width="2" height="52" fill="#c0c0c0"/>
<rect x="366" y="628" width="2" height="50" fill="#c0c0c0"/>
<rect x="382" y="628" width="2" height="50" fill="#c0c0c0"/>
<rect x="398" y="628" width="2" height="42" fill="#c0c0c0"/>
<rect x="414" y="628" width="2" height="36" fill="#c0c0c0"/>
<rect x="430" y="628" width="2" height="24" fill="#c0c0c0"/>
<rect x="446" y="628" width="2" height="17" fill="#c0c0c0"/>
<rect x="462" y="628" width="2" height="10" fill="#c0c0c0"/>
<rect x="478" y="628" width="2" height="11" fill="#c0c0c0"/>
<rect x="494" y="628" width="2" height="22" fill="#c0c0c0"/>
<rect x="510" y="628" width="2" height="27" fill="#c0c0c0"/>
<rect x="526" y="628" width="2" height="28" fill="#c0c0c0"/>
<rect x="542" y="628" width="2" height="28" fill="#c0c0c0"/>
<rect x="558" y="628" width="2" height="30" fill="#c0c0c0"/>
<rect x="574" y="628" width="2" height="29" fill="#c0c0c0"/>
<rect x="590" y="628" width="2" height="22" fill="#c0c0c0"/>
<rect x="606" y="628" width="2" height="25" fill="#c0c0c0"/>
<rect x="622" y="628" width="2" height="27" fill="#c0c0c0"/>
<rect x="638" y="628" width="2" height="32" fill="#c0c0c0"/>
<rect x="654" y="628" width="2" height="40" fill="#c0c0c0"/>
<rect x="670" y="628" width="2" height="41" fill="#c0c0c0"/>
<rect x="686" y="628" width="2" height="34" fill="#c0c0c0"/>
<rect x="702" y="628" width="2" height="24" fill="#c0c0c0"/>
<rect x="718" y="628" width="2" height="17" fill="#c0c0c0"/>
<rect x="734" y="628" width="2" height="9" fill="#c0c0c0"/>
<rect x="750" y="628" width="2" height="2" fill="#c0c0c0"/>
<rect x="766" y="627" width="2" height="1" fill="#c0c0c0"/>
<rect x="782" y="627" width="2" height="1" fill="#c0c0c0"/>
<rect x="798" y="628" width="2" height="6" fill="#c0c0c0"/>
<rect x="814" y="628" width="2" height="11" fill="#c0c0c0"/>
<rect x="830" y="628" width="2" height="15" fill="#c0c0c0"/>
<rect x="846" y="628" width="2" height="11" fill="#c0c0c0"/>
<rect x="862" y="628" width="2" height="14" fill="#c0c0c0"/>
<rect x="878" y="628" width="2" height="22" fill="#c0c0c0"/>
<rect x="894" y="628" width="2" height="34" fill="#c0c0c0"/>
<rect x="910" y="628" width="2" height="44" fill="#c0c0c0"/>
<rect x="926" y="628" width="2" height="52" fill="#c0c0c0"/>
<rect x="942" y="628" width="2" height="57" fill="#c0c0c0"/>
<rect x="958" y="628" width="2" height="70" fill="#c0c0c0"/>
<rect x="974" y="628" width="2" height="93" fill="#c0c0c0"/>
<rect x="990" y="628" width="2" height="106" fill="#c0c0c0"/>
<rect x="1006" y="628" width="2" height="116" fill="#c0c0c0"/>
<rect x="1022" y="628" width="2" height="124" fill="#c0c0c0"/>
<rect x="1038" y="628" width="2" height="130" fill="#c0c0c0"/>
<rect x="1054" y="628" width="2" height="131" fill="#c0c0c0"/>
<rect x="1070" y="628" width="2" height="130" fill="#c0c0c0"/>
<rect x="1086" y="628" width="2" height="126" fill="#c0c0c0"/>
<rect x="1102" y="628" width="2" height="123" fill="#c0c0c0"/>
<rect x="1118" y="628" width="2" height="122" fill="#c0c0c0"/>
<rect x="1134" y="628" width="2" height="127" fill="#c0c0c0"/>
<rect x="1150" y="628" width="2" height="120" fill="#c0c0c0"/>
<rect x="1166" y="628" width="2" height="106" fill="#c0c0c0"/>
<rect x="1182" y="628" width="2" height="93" fill="#c0c0c0"/>
<rect x="1198" y="628" width="2" height="80" fill="#c0c0c0"/>
<rect x="1214" y="628" width="2" height="68" fill="#c0c0c0"/>
<rect x="1230" y="628" width="2" height="52" fill="#c0c0c0"/>
<rect x="1246" y="628" width="2" height="42" fill="#c0c0c0"/>
<rect x="1262" y="628" width="2" height="30" fill="#c0c0c0"/>
<rect x="1278" y="628" width="2" height="26" fill="#c0c0c0"/>
<rect x="1294" y="628" width="2" height="24" fill="#c0c0c0"/>
<rect x="1310" y="628" width="2" height="17" fill="#c0c0c0"/>
<rect x="1326" y="628" width="2" height="9" fill="#c0c0c0"/>
<rect x="1342" y="628" width="2" height="11" fill="#c0c0c0"/>
<rect x="1358" y="628" width="2" height="18" fill="#c0c0c0"/>
<rect x="1374" y="628" width="2" height="20" fill="#c0c0c0"/>
<rect x="1390" y="628" width="2" height="20" fill="#c0c0c0"/>
<rect x="1406" y="628" width="2" height="20" fill="#c0c0c0"/>
<path d="M0 579h2M5 580h2M7 581h1M11 581h2M13 582h1M17 583h3M23 585h3M29 586h1M30 587h2M35 590h2M37 591h1M41 593h1M42 594h1M43 595h1M47 597h1M48 598h1M49 599h1M53 602h2M55 603h1M59 606h1M60 607h1M61 608h1M65 611h2M67 612h1M71 616h2M73 617h1M77 620h1M78 621h1M79 622h1M83 626h1M84 627h1M85 628h1M89 631h1M90 632h1M91 633h1M855 635h2M860 635h3M866 635h3M842 636h3M848 636h3M854 636h1M872 636h3M878 636h3M95 637h1M830 637h3M836 637h3M884 637h1M96 638h1M819 638h2M824 638h3M885 638h2M97 639h1M813 639h2M818 639h1M890 639h3M812 640h1M896 640h1M806 641h3M897 641h2M801 642h2M902 642h1M101 643h1M800 643h1M903 643h2M102 644h1M794 644h3M908 644h2M103 645h1M789 645h2M910 645h1M788 646h1M914 646h1M782 647h3M915 647h2M1406 647h2M776 648h3M920 648h1M1395 648h2M1400 648h3M107 649h1M770 649h3M921 649h2M1389 649h2M1394 649h1M108 650h1M554 650h3M560 650h3M566 650h3M572 650h3M578 650h3M584 650h3M590 650h3M765 650h2M1383 650h2M1388 650h1M109 651h1M536 651h3M542 651h3M548 651h3M596 651h3M602 651h1M759 651h2M764 651h1M926 651h3M1378 651h1M1382 651h1M524 652h3M530 652h3M603 652h2M608 652h3M754 652h1M758 652h1M932 652h1M1376 652h2M518 653h3M614 653h3M747 653h2M752 653h2M933 653h2M1370 653h3M512 654h3M620 654h3M626 654h3M740 654h3M746 654h1M938 654h3M1365 654h2M113 655h1M506 655h3M632 655h3M638 655h3M644 655h3M734 655h3M1364 655h1M114 656h1M501 656h2M650 656h3M656 656h3M728 656h3M944 656h2M1358 656h3M114 657h1M500 657h1M662 657h3M722 657h3M946 657h1M494 658h3M668 658h3M674 658h3M698 658h3M704 658h3M710 658h3M716 658h3M1352 658h3M483 659h2M488 659h3M680 659h3M686 659h3M692 659h3M950 659h2M1348 659h1M478 660h1M482 660h1M952 660h1M1346 660h2M118 661h1M476 661h2M1342 661h1M119 662h1M956 662h2M1340 662h2M119 663h1M470 663h3M958 663h1M1335 664h2M465 665h2M962 665h2M1334 665h1M464 666h1M964 666h1M123 667h1M460 667h1M1329 667h2M124 668h1M458 668h2M968 668h1M1328 668h1M124 669h1M969 669h2M1324 669h1M453 670h2M1322 670h2M452 671h1M974 671h1M975 672h1M1318 672h1M128 673h1M446 673h3M976 673h1M1316 673h2M129 674h1M130 675h1M442 675h1M980 675h1M1312 675h1M440 676h2M981 676h2M1311 676h1M1310 677h1M435 678h2M134 679h1M434 679h1M986 679h1M1306 679h1M135 680h1M430 680h1M987 680h2M1304 680h2M136 681h1M428 681h2M423 683h2M992 683h1M1299 683h2M422 684h1M993 684h2M1298 684h1M140 685h1M141 686h1M417 686h2M142 687h1M416 687h1M1293 687h2M412 688h1M998 688h1M1292 688h1M410 689h2M999 689h2M1288 690h1M146 691h1M405 691h2M1287 691h1M147 692h1M404 692h1M1286 692h1M148 693h1M1004 693h2M398 694h3M1006 694h1M1282 694h1M1280 695h2M152 696h1M393 696h2M153 697h1M392 697h1M1010 697h1M154 698h1M387 698h2M1011 698h2M1276 698h1M386 699h1M1275 699h1M382 700h1M1274 700h1M380 701h2M1016 701h1M158 702h1M1017 702h1M159 703h1M374 703h3M1018 703h1M1269 703h2M160 704h1M1268 704h1M369 705h2M1022 705h1M368 706h1M1023 706h1M164 707h1M363 707h2M1024 707h1M1264 707h1M165 708h1M362 708h1M1263 708h1M166 709h1M358 709h1M1028 709h1M1262 709h1M356 710h2M1029 710h2M1258 711h1M170 712h1M350 712h3M1256 712h2M171 713h1M1034 713h1M172 714h1M345 714h2M1035 714h2M344 715h1M1251 715h2M339 716h2M1250 716h1M176 717h2M338 717h1M1040 717h2M178 718h1M334 718h1M1042 718h1M1246 718h1M332 719h2M1244 719h2M182 720h1M1046 720h1M183 721h2M326 721h3M1047 721h2M1240 721h1M1238 722h2M188 723h1M321 723h2M1052 723h1M189 724h2M320 724h1M1053 724h2M1234 724h1M315 725h2M1232 725h2M314 726h1M194 727h2M308 727h3M1058 727h2M1228 727h1M196 728h1M1060 728h1M1226 728h2M302 729h3M200 730h2M1064 730h1M1222 730h1M202 731h1M296 731h3M1065 731h2M1220 731h2M292 732h1M206 733h3M290 733h2M1070 733h1M1216 733h1M212 734h3M284 734h3M1071 734h2M1214 734h2M218 735h3M278 735h3M224 736h3M267 736h2M272 736h3M1076 736h1M1210 736h1M230 737h3M260 737h3M266 737h1M1077 737h2M1208 737h2M236 738h3M242 738h3M248 738h3M254 738h3M1082 739h2M1203 739h2M1084 740h1M1202 740h1M1088 741h1M1198 741h1M1089 742h2M1196 742h2M1191 743h2M1094 744h1M1190 744h1M1095 745h2M1185 745h2M1184 746h1M1100 747h2M1178 747h3M1102 748h1M1106 748h1M1173 748h2M1107 749h2M1112 749h3M1172 749h1M1118 750h3M1166 750h3M1124 751h3M1160 751h3M1130 752h3M1154 752h3M1136 753h3M1142 753h3M1148 753h3" stroke="#ff0000" stroke-width="1" fill="none" transform="translate(0,0.5)"/>
</g>
<text x="3.3" y="581" font-size="10.2" fill="#000" stroke="#000" stroke-width="0.22" text-anchor="start" lengthAdjust="spacingAndGlyphs" textLength="133">MACD(12,26,9) -0.0626 -0.0530</text>
<rect x="1628" y="570" width="2" height="1" fill="#000"/>
<text x="1631" y="579" font-size="10.2" fill="#000" stroke="#000" stroke-width="0.22" text-anchor="start" lengthAdjust="spacingAndGlyphs" textLength="28">0.1711</text>
<rect x="1628" y="628" width="2" height="1" fill="#000"/>
<text x="1631" y="631.5" font-size="10.2" fill="#000" stroke="#000" stroke-width="0.22" text-anchor="start" lengthAdjust="spacingAndGlyphs" textLength="18">0.00</text>
<rect x="1628" y="768" width="2" height="1" fill="#000"/>
<text x="1631" y="766" font-size="10.2" fill="#000" stroke="#000" stroke-width="0.22" text-anchor="start" lengthAdjust="spacingAndGlyphs" textLength="31">-0.4115</text>
<line x1="0" y1="804.5" x2="1627" y2="804.5" stroke="#c0c0c0" stroke-width="1" stroke-dasharray="3 3" shape-rendering="crispEdges"/>
<line x1="0" y1="851.5" x2="1627" y2="851.5" stroke="#c0c0c0" stroke-width="1" stroke-dasharray="3 3" shape-rendering="crispEdges"/>
<line x1="0" y1="907.5" x2="1627" y2="907.5" stroke="#c0c0c0" stroke-width="1" stroke-dasharray="3 3" shape-rendering="crispEdges"/>
<path d="M430 842h5M733 842h10M428 843h2M435 843h8M455 843h9M729 843h4M743 843h10M1261 843h3M1325 843h3M426 844h2M443 844h12M464 844h1M725 844h4M753 844h3M1231 844h3M1257 844h4M1264 844h1M1319 844h6M1328 844h1M424 845h2M465 845h1M702 845h9M721 845h4M756 845h3M1229 845h2M1234 845h5M1253 845h4M1265 845h2M1314 845h5M1329 845h1M422 846h2M466 846h1M700 846h2M711 846h10M759 846h4M1227 846h2M1239 846h6M1249 846h4M1267 846h1M1310 846h4M1330 846h1M420 847h2M467 847h1M698 847h2M763 847h3M1225 847h2M1245 847h4M1268 847h1M1308 847h2M1331 847h1M418 848h2M468 848h1M695 848h3M766 848h3M1223 848h2M1269 848h2M1306 848h2M1332 848h1M416 849h2M469 849h1M590 849h2M693 849h2M769 849h3M1222 849h1M1271 849h1M1304 849h2M1333 849h1M335 850h2M413 850h3M470 850h1M588 850h2M592 850h1M691 850h2M772 850h3M847 850h1M1220 850h2M1272 850h1M1302 850h2M1334 850h1M334 851h1M337 851h2M409 851h4M471 851h2M586 851h2M593 851h2M689 851h2M775 851h4M845 851h2M848 851h2M1218 851h2M1273 851h2M1300 851h2M1335 851h2M333 852h1M339 852h3M405 852h4M473 852h1M584 852h2M595 852h1M687 852h2M779 852h3M844 852h1M850 852h2M1216 852h2M1275 852h1M1298 852h2M1337 852h1M331 853h2M342 853h3M401 853h4M474 853h1M582 853h2M596 853h1M685 853h2M782 853h3M842 853h2M852 853h2M1211 853h5M1276 853h1M1296 853h2M1338 853h1M330 854h1M345 854h2M399 854h2M475 854h1M580 854h2M597 854h2M684 854h1M785 854h2M841 854h1M854 854h2M1203 854h8M1277 854h2M1287 854h9M1339 854h1M329 855h1M347 855h3M397 855h2M476 855h1M578 855h2M599 855h1M682 855h2M787 855h2M839 855h2M856 855h2M1197 855h6M1279 855h8M1340 855h1M11 856h5M328 856h1M350 856h3M396 856h1M477 856h1M576 856h2M600 856h1M681 856h1M789 856h2M838 856h1M858 856h2M1191 856h6M1341 856h1M3 857h8M16 857h1M327 857h1M353 857h2M394 857h2M478 857h1M574 857h2M601 857h2M679 857h2M791 857h3M837 857h1M860 857h2M1167 857h8M1186 857h5M1342 857h1M1374 857h25M0 858h3M17 858h1M326 858h1M355 858h2M393 858h1M479 858h1M572 858h2M603 858h1M678 858h1M794 858h2M835 858h2M862 858h2M1165 858h2M1175 858h11M1343 858h2M1371 858h3M1399 858h9M18 859h1M325 859h1M357 859h2M391 859h2M480 859h1M570 859h2M604 859h1M677 859h1M796 859h2M834 859h1M864 859h2M1164 859h1M1345 859h3M1369 859h2M19 860h1M323 860h2M359 860h3M390 860h1M481 860h2M526 860h19M568 860h2M605 860h2M675 860h2M798 860h4M832 860h2M866 860h2M1163 860h1M1348 860h3M1366 860h3M20 861h1M322 861h1M362 861h2M389 861h1M483 861h1M524 861h2M545 861h3M566 861h2M607 861h4M674 861h1M802 861h5M827 861h5M868 861h2M1161 861h2M1351 861h4M1363 861h3M21 862h1M321 862h1M364 862h2M387 862h2M484 862h1M522 862h2M548 862h3M564 862h2M611 862h8M672 862h2M807 862h6M819 862h8M870 862h1M1160 862h1M1355 862h3M1361 862h2M22 863h1M320 863h1M366 863h5M386 863h1M485 863h2M519 863h3M551 863h4M562 863h2M619 863h7M671 863h1M813 863h6M871 863h2M1159 863h1M1358 863h3M23 864h1M311 864h9M371 864h8M384 864h2M487 864h1M517 864h2M555 864h3M560 864h2M626 864h5M669 864h2M873 864h2M1157 864h2M23 865h1M295 865h16M379 865h5M488 865h1M515 865h2M558 865h2M631 865h6M668 865h1M875 865h2M1156 865h1M24 866h1M283 866h12M489 866h2M513 866h2M637 866h3M666 866h2M877 866h2M1155 866h1M25 867h1M275 867h8M491 867h1M509 867h4M640 867h2M665 867h1M879 867h1M1153 867h2M26 868h1M267 868h8M492 868h1M503 868h6M642 868h2M663 868h2M880 868h2M1152 868h1M27 869h1M259 869h8M493 869h2M498 869h5M644 869h2M662 869h1M882 869h2M1151 869h1M28 870h1M254 870h5M495 870h3M646 870h2M661 870h1M884 870h2M1150 870h1M29 871h1M251 871h3M648 871h2M659 871h2M886 871h1M1149 871h1M30 872h1M222 872h4M247 872h4M650 872h2M658 872h1M887 872h2M1149 872h1M31 873h3M219 873h3M226 873h5M244 873h3M652 873h2M656 873h2M889 873h2M941 873h3M1148 873h1M34 874h5M142 874h5M215 874h4M231 874h6M241 874h3M654 874h2M891 874h2M937 874h4M944 874h2M1147 874h1M39 875h6M140 875h2M147 875h8M212 875h3M237 875h4M893 875h2M933 875h4M946 875h1M1146 875h1M45 876h6M138 876h2M155 876h44M209 876h3M895 876h8M929 876h4M947 876h2M1145 876h1M51 877h8M135 877h3M199 877h10M903 877h26M949 877h1M1085 877h6M1145 877h1M59 878h6M133 878h2M950 878h1M1079 878h6M1091 878h8M1144 878h1M65 879h3M131 879h2M951 879h2M1074 879h5M1099 879h6M1143 879h1M68 880h3M129 880h2M953 880h1M1070 880h4M1105 880h4M1142 880h1M71 881h4M125 881h4M954 881h2M1068 881h2M1109 881h4M1141 881h1M75 882h3M121 882h4M956 882h1M1066 882h2M1113 882h4M1141 882h1M78 883h9M117 883h4M957 883h2M991 883h4M1063 883h3M1117 883h4M1140 883h1M87 884h16M113 884h4M959 884h1M989 884h2M995 884h8M1061 884h2M1121 884h2M1139 884h1M103 885h10M960 885h2M988 885h1M1003 885h8M1035 885h8M1059 885h2M1123 885h3M1138 885h1M962 886h1M987 886h1M1011 886h8M1027 886h8M1043 886h8M1057 886h2M1126 886h3M1137 886h1M963 887h2M985 887h2M1019 887h8M1051 887h6M1129 887h2M1137 887h1M965 888h1M984 888h1M1131 888h3M1136 888h1M966 889h1M983 889h1M1134 889h2M967 890h2M981 890h2M969 891h1M980 891h1M970 892h2M979 892h1M972 893h1M977 893h2M973 894h2M976 894h1M975 895h1" stroke="#1e90ff" stroke-width="1" fill="none" transform="translate(0,0.5)"/>
<text x="3" y="784" font-size="10.2" fill="#000" stroke="#000" stroke-width="0.22" text-anchor="start" lengthAdjust="spacingAndGlyphs" textLength="68">RSI(14) 45.0282</text>
<rect x="1628" y="773" width="2" height="1" fill="#000"/>
<text x="1631" y="782" font-size="10.2" fill="#000" stroke="#000" stroke-width="0.22" text-anchor="start" lengthAdjust="spacingAndGlyphs" textLength="14.5">100</text>
<text x="1631" y="808" font-size="10.2" fill="#000" stroke="#000" stroke-width="0.22" text-anchor="start" lengthAdjust="spacingAndGlyphs" textLength="10">80</text>
<text x="1631" y="855" font-size="10.2" fill="#000" stroke="#000" stroke-width="0.22" text-anchor="start" lengthAdjust="spacingAndGlyphs" textLength="10">50</text>
<text x="1631" y="911" font-size="10.2" fill="#000" stroke="#000" stroke-width="0.22" text-anchor="start" lengthAdjust="spacingAndGlyphs" textLength="10">15</text>
<text x="1631" y="928" font-size="10.2" fill="#000" stroke="#000" stroke-width="0.22" text-anchor="start" lengthAdjust="spacingAndGlyphs" textLength="5">0</text>
<rect x="-1" y="931" width="1" height="4" fill="#000"/>
<text x="-2" y="944" font-size="10.2" fill="#000" stroke="#000" stroke-width="0.22" text-anchor="start" lengthAdjust="spacingAndGlyphs" textLength="41.6">2 Jul 2019</text>
<rect x="63" y="931" width="1" height="4" fill="#000"/>
<text x="62" y="944" font-size="10.2" fill="#000" stroke="#000" stroke-width="0.22" text-anchor="start" lengthAdjust="spacingAndGlyphs" textLength="44.3">2 Jul 20:00</text>
<rect x="127" y="931" width="1" height="4" fill="#000"/>
<text x="126" y="944" font-size="10.2" fill="#000" stroke="#000" stroke-width="0.22" text-anchor="start" lengthAdjust="spacingAndGlyphs" textLength="44.3">3 Jul 12:00</text>
<rect x="191" y="931" width="1" height="4" fill="#000"/>
<text x="190" y="944" font-size="10.2" fill="#000" stroke="#000" stroke-width="0.22" text-anchor="start" lengthAdjust="spacingAndGlyphs" textLength="44.3">4 Jul 04:00</text>
<rect x="255" y="931" width="1" height="4" fill="#000"/>
<text x="254" y="944" font-size="10.2" fill="#000" stroke="#000" stroke-width="0.22" text-anchor="start" lengthAdjust="spacingAndGlyphs" textLength="44.3">4 Jul 20:00</text>
<rect x="319" y="931" width="1" height="4" fill="#000"/>
<text x="318" y="944" font-size="10.2" fill="#000" stroke="#000" stroke-width="0.22" text-anchor="start" lengthAdjust="spacingAndGlyphs" textLength="44.3">5 Jul 12:00</text>
<rect x="383" y="931" width="1" height="4" fill="#000"/>
<text x="382" y="944" font-size="10.2" fill="#000" stroke="#000" stroke-width="0.22" text-anchor="start" lengthAdjust="spacingAndGlyphs" textLength="44.3">8 Jul 04:00</text>
<rect x="447" y="931" width="1" height="4" fill="#000"/>
<text x="446" y="944" font-size="10.2" fill="#000" stroke="#000" stroke-width="0.22" text-anchor="start" lengthAdjust="spacingAndGlyphs" textLength="44.3">8 Jul 20:00</text>
<rect x="511" y="931" width="1" height="4" fill="#000"/>
<text x="510" y="944" font-size="10.2" fill="#000" stroke="#000" stroke-width="0.22" text-anchor="start" lengthAdjust="spacingAndGlyphs" textLength="44.3">9 Jul 12:00</text>
<rect x="575" y="931" width="1" height="4" fill="#000"/>
<text x="574" y="944" font-size="10.2" fill="#000" stroke="#000" stroke-width="0.22" text-anchor="start" lengthAdjust="spacingAndGlyphs" textLength="50">10 Jul 04:00</text>
<rect x="639" y="931" width="1" height="4" fill="#000"/>
<text x="638" y="944" font-size="10.2" fill="#000" stroke="#000" stroke-width="0.22" text-anchor="start" lengthAdjust="spacingAndGlyphs" textLength="50">10 Jul 20:00</text>
<rect x="703" y="931" width="1" height="4" fill="#000"/>
<text x="702" y="944" font-size="10.2" fill="#000" stroke="#000" stroke-width="0.22" text-anchor="start" lengthAdjust="spacingAndGlyphs" textLength="50">11 Jul 12:00</text>
<rect x="767" y="931" width="1" height="4" fill="#000"/>
<text x="766" y="944" font-size="10.2" fill="#000" stroke="#000" stroke-width="0.22" text-anchor="start" lengthAdjust="spacingAndGlyphs" textLength="50">12 Jul 04:00</text>
<rect x="831" y="931" width="1" height="4" fill="#000"/>
<text x="830" y="944" font-size="10.2" fill="#000" stroke="#000" stroke-width="0.22" text-anchor="start" lengthAdjust="spacingAndGlyphs" textLength="50">14 Jul 23:00</text>
<rect x="895" y="931" width="1" height="4" fill="#000"/>
<text x="894" y="944" font-size="10.2" fill="#000" stroke="#000" stroke-width="0.22" text-anchor="start" lengthAdjust="spacingAndGlyphs" textLength="50">15 Jul 12:00</text>
<rect x="959" y="931" width="1" height="4" fill="#000"/>
<text x="958" y="944" font-size="10.2" fill="#000" stroke="#000" stroke-width="0.22" text-anchor="start" lengthAdjust="spacingAndGlyphs" textLength="50">16 Jul 04:00</text>
<rect x="1023" y="931" width="1" height="4" fill="#000"/>
<text x="1022" y="944" font-size="10.2" fill="#000" stroke="#000" stroke-width="0.22" text-anchor="start" lengthAdjust="spacingAndGlyphs" textLength="50">16 Jul 20:00</text>
<rect x="1087" y="931" width="1" height="4" fill="#000"/>
<text x="1086" y="944" font-size="10.2" fill="#000" stroke="#000" stroke-width="0.22" text-anchor="start" lengthAdjust="spacingAndGlyphs" textLength="50">17 Jul 12:00</text>
<rect x="1151" y="931" width="1" height="4" fill="#000"/>
<text x="1150" y="944" font-size="10.2" fill="#000" stroke="#000" stroke-width="0.22" text-anchor="start" lengthAdjust="spacingAndGlyphs" textLength="50">18 Jul 04:00</text>
<rect x="1215" y="931" width="1" height="4" fill="#000"/>
<text x="1214" y="944" font-size="10.2" fill="#000" stroke="#000" stroke-width="0.22" text-anchor="start" lengthAdjust="spacingAndGlyphs" textLength="50">18 Jul 20:00</text>
<rect x="1279" y="931" width="1" height="4" fill="#000"/>
<text x="1278" y="944" font-size="10.2" fill="#000" stroke="#000" stroke-width="0.22" text-anchor="start" lengthAdjust="spacingAndGlyphs" textLength="50">19 Jul 12:00</text>
<rect x="1343" y="931" width="1" height="4" fill="#000"/>
<text x="1342" y="944" font-size="10.2" fill="#000" stroke="#000" stroke-width="0.22" text-anchor="start" lengthAdjust="spacingAndGlyphs" textLength="50">22 Jul 04:00</text>
<rect x="1407" y="931" width="1" height="4" fill="#000"/>
<text x="1406" y="944" font-size="10.2" fill="#000" stroke="#000" stroke-width="0.22" text-anchor="start" lengthAdjust="spacingAndGlyphs" textLength="50">22 Jul 20:00</text></svg>
<div id="redge"></div>
<svg width="230" height="90" viewBox="0 30 230 90" style="position:absolute;left:0;top:30px" text-rendering="geometricPrecision" font-family="'Liberation Sans',sans-serif">
<defs>
<linearGradient id="rg" x1="0" y1="51" x2="0" y2="115" gradientUnits="userSpaceOnUse">
<stop offset="0" stop-color="#fb5252"/><stop offset="0.36" stop-color="#e03030"/><stop offset="0.7" stop-color="#c81818"/><stop offset="1" stop-color="#b00404"/>
</linearGradient>
</defs>
<rect x="0" y="32" width="223" height="85" fill="#fff"/>
<!-- title -->
<polygon points="2,42.4 9.5,42.4 5.75,38" fill="#000"/>
<text x="14.5" y="43" font-size="10.2" fill="#000" stroke="#000" stroke-width="0.22" textLength="199" lengthAdjust="spacingAndGlyphs" xml:space="preserve">GBPJPY-,H4  134.594 134.632 134.523 134.541</text>
<!-- white backing -->
<rect x="54" y="51" width="115" height="24" fill="#fff"/>
<!-- sell -->
<path d="M2.5,51.5 H53.5 V75.5 H110.5 V114.5 H2.5 Z" fill="url(#rg)" stroke="#c40a0a" stroke-width="1" shape-rendering="crispEdges"/>
<path d="M220.5,51.5 H169.5 V75.5 H113.5 V114.5 H220.5 Z" fill="url(#rg)" stroke="#c40a0a" stroke-width="1" shape-rendering="crispEdges"/>
<rect x="6" y="74" width="44" height="1" fill="#a80808"/><rect x="6" y="75" width="44" height="1" fill="#f86868"/>
<rect x="173" y="74" width="44" height="1" fill="#a80808"/><rect x="173" y="75" width="44" height="1" fill="#f86868"/>
<text x="14.3" y="66.4" font-size="11.6" fill="#fff" textLength="25.4" lengthAdjust="spacingAndGlyphs">SELL</text>
<text x="183.3" y="66.4" font-size="11.6" fill="#fff" textLength="23.4" lengthAdjust="spacingAndGlyphs">BUY</text>
<!-- volume box -->
<rect x="56.5" y="51.5" width="111" height="21" rx="1.5" fill="#fff" stroke="#a3a8ae" stroke-width="1"/>
<rect x="57" y="52" width="20" height="20" fill="#e9e9e9"/><rect x="77" y="52" width="1" height="20" fill="#a3a8ae"/>
<rect x="146" y="52" width="21" height="20" fill="#e9e9e9"/><rect x="145" y="52" width="1" height="20" fill="#a3a8ae"/>
<polygon points="63.5,60 69.5,60 66.5,63.5" fill="#000"/>
<polygon points="152.5,63.5 158.5,63.5 155.5,60" fill="#000"/>
<text x="141.8" y="65.7" font-size="12.6" fill="#1a1a1a" text-anchor="end">1.00</text>
<!-- prices -->
<g fill="#fff">
<text x="25.4" y="105.6" font-size="12" font-weight="700" textLength="20.6" lengthAdjust="spacingAndGlyphs">134</text>
<text x="50" y="106" font-size="33" textLength="35.5" lengthAdjust="spacingAndGlyphs">54</text>
<text x="88.6" y="89.8" font-size="12" font-weight="700">1</text>
<text x="136" y="105.6" font-size="12" font-weight="700" textLength="20.6" lengthAdjust="spacingAndGlyphs">134</text>
<text x="160" y="106" font-size="33" textLength="33" lengthAdjust="spacingAndGlyphs">61</text>
<text x="200.2" y="89.8" font-size="12" font-weight="700">9</text>
</g>
</svg>

<div id="tb">
<div class="l0"></div><div class="l1"></div><div class="l2"></div><div class="l3"></div>
<div class="cn" style="left:17px;top:6px">新订单</div>
<div class="cn" style="left:169px;top:6px">自动交易</div>
<div class="sep tall" style="left:224px"></div><div class="grip" style="left:228px"></div>
<div class="pressed" style="left:262px"></div>
<div class="sep" style="left:319px"></div>
<div class="sep" style="left:409px"></div>
<div class="pressed" style="left:414px"></div>
<div class="pressed" style="left:442px"></div>
<div class="sep" style="left:471px"></div>
<div class="sep tall" style="left:592px"></div><div class="grip" style="left:596px"></div>
<div class="pressed" style="left:602px"></div>
<div class="sep" style="left:659px"></div>
<div class="sep tall" style="left:898px"></div><div class="grip" style="left:902px"></div>
<div class="pressed" style="left:1048px"></div>
<div class="sep tall" style="left:1159px"></div>
<svg width="1674" height="28" viewBox="0 0 1674 28" style="position:absolute;left:0;top:0" font-family="'Liberation Sans',sans-serif" text-rendering="geometricPrecision">
<defs>
<g id="axes" fill="#555" shape-rendering="crispEdges">
<rect x="0" y="9" width="1" height="14"/><rect x="-1" y="10" width="3" height="1"/>
<rect x="-2" y="20" width="14" height="1"/><rect x="10" y="19" width="1" height="3"/>
</g>
<path id="dd" d="M0,0 H5.6 L2.8,3.1 Z" fill="#000"/>
<linearGradient id="gold" x1="0" y1="0" x2="1" y2="1"><stop offset="0" stop-color="#f6dc5a"/><stop offset="1" stop-color="#c8920e"/></linearGradient>
<linearGradient id="bub" x1="0" y1="0" x2="0" y2="1"><stop offset="0" stop-color="#ffffff"/><stop offset="1" stop-color="#dcdce8"/></linearGradient>
<radialGradient id="pl" cx="0.5" cy="0.45" r="0.6"><stop offset="0" stop-color="#7dff8a"/><stop offset="1" stop-color="#10c82a"/></radialGradient>
</defs>
<!-- new order -->
<g>
<path d="M-2,7.5 H7 L9.5,10 V20.5 H-2 Z" fill="#fff" stroke="#9a9a9a"/>
<path d="M7,7.5 V10 H9.5" fill="none" stroke="#9a9a9a"/>
<path d="M0,10 H2.5 M0,14.5 H5 M0,16 H4" stroke="#9a9a9a" fill="none"/>
<path d="M6.5,13.8 H9.7 V17.4 H13.7 V20.8 H9.7 V24.6 H6.5 V20.8 H2.5 V17.4 H6.5 Z" fill="url(#pl)" stroke="#0c8a18" stroke-width="0.9"/>
</g>
<!-- gold book -->
<g>
<path d="M65,17.2 L73.4,23 L81.2,16.4 L81,14.6 L73.2,20.6 L65.2,15.4 Z" fill="#b98310" stroke="#8f600a" stroke-width="0.7"/>
<path d="M70.8,8 L81,14.8 L73.2,20.8 L65.2,15.6 Q66.6,12.6 70.8,8 Z" fill="url(#gold)" stroke="#a8720c" stroke-width="0.8"/>
<path d="M66,16.8 L73.3,21.6 L80.4,16" stroke="#f6dc86" stroke-width="0.9" fill="none"/>
</g>
<!-- server + cloud -->
<g>
<path d="M95.4,8.8 L99,7.2 V16.5 H95.4 Z" fill="#1e90ff" stroke="#1774e0" stroke-width="0.7"/>
<path d="M99,7.2 H106.2 V16.5 H99 Z" fill="#62b6ff" stroke="#2c88e8" stroke-width="0.7"/>
<path d="M95.8,8.8 L99.2,7.4 H106" stroke="#d8eeff" stroke-width="0.9" fill="none"/>
<rect x="100.4" y="9.6" width="4.8" height="1.4" fill="#e8f6ff"/><rect x="100.4" y="12" width="3" height="1" fill="#b4dcff"/>
<path d="M96.4,22.8 Q92.4,22.6 93,19.4 Q94,16.9 96.8,17.6 Q98.4,14.6 101.8,15.6 Q104.2,14.6 106,17 Q109.6,17.2 109.2,20.6 Q108.6,23 105.6,22.8 Z" fill="#edf3fb" stroke="#5c7cae" stroke-width="0.9"/>
<path d="M95,21.6 H107.5" stroke="#c4d2e8" stroke-width="1.2"/>
</g>
<!-- signal -->
<g fill="none">
<circle cx="129.1" cy="14.9" r="7.5" stroke="#b4c4e6" stroke-width="1.2"/>
<circle cx="129.1" cy="14.9" r="5" stroke="#8ea8e0" stroke-width="1.1"/>
<circle cx="129.1" cy="14.9" r="2.7" stroke="#6a8edc" stroke-width="1"/>
<path d="M129.1,14.9 L136.6,14.9 A7.5,7.5 0 0 1 129.1,22.4 Z" fill="#cfe8cf" opacity="0.8"/>
<path d="M129.1,22.4 A7.5,7.5 0 0 0 136.6,14.9" stroke="#6cb46c" stroke-width="1.3"/>
<path d="M129.1,19.9 A5,5 0 0 0 134.1,14.9" stroke="#8cc88c" stroke-width="1.1"/>
<circle cx="129.1" cy="14.9" r="1.7" fill="#2450c4"/>
<path d="M129.4,16.2 V23" stroke="#1aa21a" stroke-width="1.5"/>
</g>
<!-- autotrading -->
<g>
<path d="M149.4,13 L163.4,13 L159.6,20.4 L155.6,22.8 Z" fill="#f7df70" stroke="#d4aa24" stroke-width="0.8"/>
<ellipse cx="156.1" cy="10.9" rx="7.9" ry="2.9" fill="#4c9ae2" stroke="#2c78c8" stroke-width="0.8"/>
<ellipse cx="156.1" cy="8.4" rx="3.7" ry="2.8" fill="#72b6ee" stroke="#2c78c8" stroke-width="0.8"/>
<circle cx="160.4" cy="18.8" r="4.2" fill="#dc2414" stroke="#b0140a" stroke-width="0.8"/>
<rect x="158.7" y="17.2" width="3.4" height="3.3" fill="#fff"/>
</g>
<!-- chart type icons -->
<use href="#axes" x="242"/><use href="#axes" x="270"/><use href="#axes" x="298"/><use href="#axes" x="422"/><use href="#axes" x="450"/>
<g fill="#0c8c0c" shape-rendering="crispEdges"><rect x="248" y="10" width="1" height="9"/><rect x="249" y="11" width="2" height="1"/><rect x="246" y="17" width="2" height="1"/></g>
<g shape-rendering="crispEdges"><rect x="276" y="7" width="1" height="12" fill="#0c8c0c"/><rect x="274" y="9" width="5" height="8" fill="#0c8c0c"/><rect x="275" y="10" width="3" height="6" fill="#4be36a"/></g>
<path d="M297.2,17.8 Q301.4,11.4 303.6,12.2 T308.8,15.8" stroke="#2f9e33" stroke-width="1.3" fill="none"/>
<path d="M427.5,11.2 L431.2,14.5 L427.5,17.8 Z" fill="#86e88c" stroke="#18a01c" stroke-width="1.1"/>
<rect x="456" y="9" width="1" height="10" fill="#1a70a8" shape-rendering="crispEdges"/>
<path d="M462.2,14.5 H458 M460.6,12.3 L457.6,14.5 L460.6,16.7 Z" stroke="#e04808" stroke-width="1.1" fill="#e04808"/>
<!-- zoom in/out -->
<g>
<path d="M338.2,17.4 L343.2,22" stroke="#b07c10" stroke-width="3.6" stroke-linecap="butt"/>
<path d="M338.4,17.2 L343,21.5" stroke="#f0dc48" stroke-width="2" stroke-linecap="butt"/>
<circle cx="334" cy="13" r="5.4" fill="#daf0fb" stroke="#3b82c8" stroke-width="1.3"/>
<path d="M330.8,13 H337.2 M334,9.8 V16.2" stroke="#3b8cb4" stroke-width="1.9"/>
<path d="M366.4,17.4 L371.4,22" stroke="#b07c10" stroke-width="3.6" stroke-linecap="butt"/>
<path d="M366.6,17.2 L371.2,21.5" stroke="#f0dc48" stroke-width="2" stroke-linecap="butt"/>
<circle cx="362.2" cy="13" r="5.4" fill="#daf0fb" stroke="#3b82c8" stroke-width="1.3"/>
<path d="M359,13 H365.4" stroke="#3b8cb4" stroke-width="1.9"/>
</g>
<!-- tile -->
<g shape-rendering="crispEdges">
<rect x="384" y="7" width="8" height="8" fill="#36a214"/><rect x="392" y="7" width="8" height="8" fill="#1a4cc4"/>
<rect x="384" y="15" width="8" height="8" fill="#1a4cc4"/><rect x="392" y="15" width="8" height="8" fill="#36a214"/>
<g fill="#fff"><rect x="385" y="10" width="6" height="4"/><rect x="393" y="10" width="6" height="4"/><rect x="385" y="18" width="6" height="4"/><rect x="393" y="18" width="6" height="4"/>
<rect x="385" y="8" width="1" height="1" opacity="0.8"/><rect x="393" y="8" width="1" height="1" opacity="0.8"/><rect x="385" y="16" width="1" height="1" opacity="0.8"/><rect x="393" y="16" width="1" height="1" opacity="0.8"/></g>
<rect x="386" y="11" width="4" height="1" fill="#9ad488"/><rect x="394" y="11" width="4" height="1" fill="#8ca8e8"/><rect x="386" y="19" width="4" height="1" fill="#8ca8e8"/><rect x="394" y="19" width="4" height="1" fill="#9ad488"/>
<rect x="387" y="13" width="2" height="1" fill="#36a214"/><rect x="395" y="13" width="2" height="1" fill="#1a4cc4"/><rect x="387" y="21" width="2" height="1" fill="#1a4cc4"/><rect x="395" y="21" width="2" height="1" fill="#36a214"/>
</g>
<!-- page plus -->
<g>
<path d="M481.5,7.5 H490 L493,10.5 V20.5 H481.5 Z" fill="#fff" stroke="#9a9a9a"/>
<path d="M490,7.5 V10.5 H493" fill="none" stroke="#9a9a9a"/>
<path d="M486.5,9.5 Q484.5,9.5 484.5,11.5 V16 M484,12.5 H486" stroke="#686050" fill="none" stroke-width="0.9"/>
<path d="M489.4,13.4 H492.8 V17.2 H496.8 V20.8 H492.8 V24.8 H489.4 V20.8 H485.4 V17.2 H489.4 Z" fill="url(#pl)" stroke="#0c8a18" stroke-width="0.9"/>
<use href="#dd" x="502.9" y="14"/>
</g>
<!-- clock -->
<g>
<circle cx="526.9" cy="14.9" r="7" fill="#f6f9fd" stroke="#1a68dc" stroke-width="2.4"/>
<circle cx="526.9" cy="14.9" r="8.1" fill="none" stroke="#0c48a8" stroke-width="0.5"/>
<path d="M526.6,11.4 V15.2 H529.4" stroke="#383838" stroke-width="1.2" fill="none"/>
<use href="#dd" x="541.8" y="14"/>
</g>
<!-- indicators -->
<g>
<rect x="558.5" y="8.5" width="15.4" height="13" fill="#fff" stroke="#3a78d0" stroke-width="0.9"/>
<rect x="558" y="8" width="16.4" height="2.6" fill="#3a7cd4"/>
<path d="M558.5,15.6 H574" stroke="#8cb4ec" stroke-width="1"/>
<path d="M560,13.8 L563,12.8 L565.6,12 L568,13 L572.4,12" stroke="#b42c0c" stroke-width="1.2" fill="none"/>
<path d="M560.4,19.4 L563,18.6 L565,19.6 L568.6,17.4 L572,19.8" stroke="#1a961a" stroke-width="1.2" fill="none"/>
<use href="#dd" x="580.7" y="14"/>
</g>
<!-- cursor -->
<path d="M610.2,7.6 V19.4 L613,16.8 L615.4,22 L617.3,21.1 L615,16.2 L618.2,15.6 Z" fill="#505050"/>
<!-- crosshair -->
<g fill="#505050" shape-rendering="crispEdges"><rect x="635" y="15" width="6" height="1"/><rect x="644" y="15" width="6" height="1"/><rect x="642" y="8" width="1" height="6"/><rect x="642" y="17" width="1" height="6"/><rect x="642" y="15" width="1" height="1"/></g>
<!-- lines -->
<g fill="#505050" shape-rendering="crispEdges"><rect x="676" y="9" width="1" height="13"/><rect x="699" y="15" width="12" height="1"/></g>
<path d="M726.8,22 L739.2,9.6" stroke="#505050" stroke-width="1.1"/>
<!-- channel -->
<g stroke="#505050" stroke-width="0.9" fill="none">
<path d="M752.6,17 L762,8.6 M756.8,21.2 L766.6,12.6"/>
<path d="M755.6,19.6 Q757.6,16 758.2,11.4 M759.4,19 Q761.6,15 762,9.6 M763.4,16.6 Q765,13 765,7.4"/>
</g>
<text x="763.8" y="23.6" font-size="6.4" font-weight="700" fill="#404040">E</text>
<!-- fibo -->
<g fill="#606060" shape-rendering="crispEdges">
<path d="M782,8h1v1h-1zM784,8h1v1h-1zM786,8h1v1h-1zM788,8h1v1h-1zM790,8h1v1h-1zM792,8h1v1h-1zM794,8h1v1h-1z"/>
<path d="M782,11h1v1h-1zM784,11h1v1h-1zM786,11h1v1h-1zM788,11h1v1h-1zM790,11h1v1h-1zM792,11h1v1h-1zM794,11h1v1h-1z"/>
<path d="M782,15h1v1h-1zM784,15h1v1h-1zM786,15h1v1h-1zM788,15h1v1h-1zM790,15h1v1h-1zM792,15h1v1h-1zM794,15h1v1h-1z"/>
<path d="M782,19h1v1h-1zM784,19h1v1h-1zM786,19h1v1h-1zM788,19h1v1h-1zM790,19h1v1h-1z"/>
</g>
<text x="792" y="23.6" font-size="6.4" font-weight="700" fill="#404040">F</text>
<!-- A -->
<text x="812.4" y="20" font-size="12.6" font-weight="700" fill="#555" textLength="8.4" lengthAdjust="spacingAndGlyphs">A</text>
<!-- T box -->
<g fill="#606060" shape-rendering="crispEdges">
<path d="M839,9h1v1h-1zM841,9h1v1h-1zM843,9h1v1h-1zM845,9h1v1h-1zM847,9h1v1h-1zM849,9h1v1h-1zM839,21h1v1h-1zM841,21h1v1h-1zM843,21h1v1h-1zM845,21h1v1h-1zM847,21h1v1h-1zM849,21h1v1h-1z"/>
<path d="M839,11h1v1h-1zM839,13h1v1h-1zM839,15h1v1h-1zM839,17h1v1h-1zM839,19h1v1h-1zM850,11h1v1h-1zM850,13h1v1h-1zM850,15h1v1h-1zM850,17h1v1h-1zM850,19h1v1h-1zM850,9h1v1h-1zM850,21h1v1h-1z"/>
<rect x="838" y="8" width="2" height="1"/>
</g>
<g fill="#555" shape-rendering="crispEdges"><rect x="841" y="12" width="8" height="2"/><rect x="844" y="12" width="2" height="8"/></g>
<!-- arrows -->
<g fill="#484848">
<path d="M866,13.2 L869.6,9 L873.2,13.2 Z"/><path d="M872.8,18 L876.6,22.2 L880.4,18 Z"/>
<path d="M868,15.8 L870.2,18.2 L874.6,12.8" stroke="#484848" stroke-width="1.5" fill="none"/>
</g>
<use href="#dd" x="886.8" y="14.2"/>
<!-- timeframes -->
<g font-size="10.2" fill="#3c3c3c">
<text x="913.8" y="19" textLength="12.2" lengthAdjust="spacingAndGlyphs">M1</text>
<text x="941.5" y="19" textLength="12.5" lengthAdjust="spacingAndGlyphs">M5</text>
<text x="967" y="19" textLength="18" lengthAdjust="spacingAndGlyphs">M15</text>
<text x="995.6" y="19" textLength="17.4" lengthAdjust="spacingAndGlyphs">M30</text>
<text x="1026" y="19" textLength="12" lengthAdjust="spacingAndGlyphs">H1</text>
<text x="1053.8" y="19" textLength="12" lengthAdjust="spacingAndGlyphs">H4</text>
<text x="1082.4" y="19" textLength="12" lengthAdjust="spacingAndGlyphs">D1</text>
<text x="1109.6" y="19" textLength="14.4" lengthAdjust="spacingAndGlyphs">W1</text>
<text x="1136" y="19" textLength="15.7" lengthAdjust="spacingAndGlyphs">MN</text>
</g>
<!-- search -->
<g>
<path d="M1626.6,15.8 L1621.8,20.4" stroke="#1c54d4" stroke-width="2.6" stroke-linecap="round"/>
<circle cx="1629.5" cy="12.5" r="4" fill="#fbfcff" stroke="#2a60dc" stroke-width="1.4"/>
</g>
<!-- chat -->
<g>
<path d="M1664.6,16 L1666.2,19.4 L1661.8,16.4" fill="#707070" stroke="#8a8a8a" stroke-width="0.6"/>
<ellipse cx="1662" cy="12" rx="6.6" ry="4.5" fill="url(#bub)" stroke="#a2a2a2" stroke-width="0.9"/>
<path d="M1651.6,19.4 L1650,22.2 L1654,19.8" fill="#707070" stroke="#8a8a8a" stroke-width="0.6"/>
<ellipse cx="1653.4" cy="16.1" rx="5.1" ry="3.8" fill="url(#bub)" stroke="#9a9a9a" stroke-width="0.9"/>
</g>
</svg>
</div>

</body></html>
